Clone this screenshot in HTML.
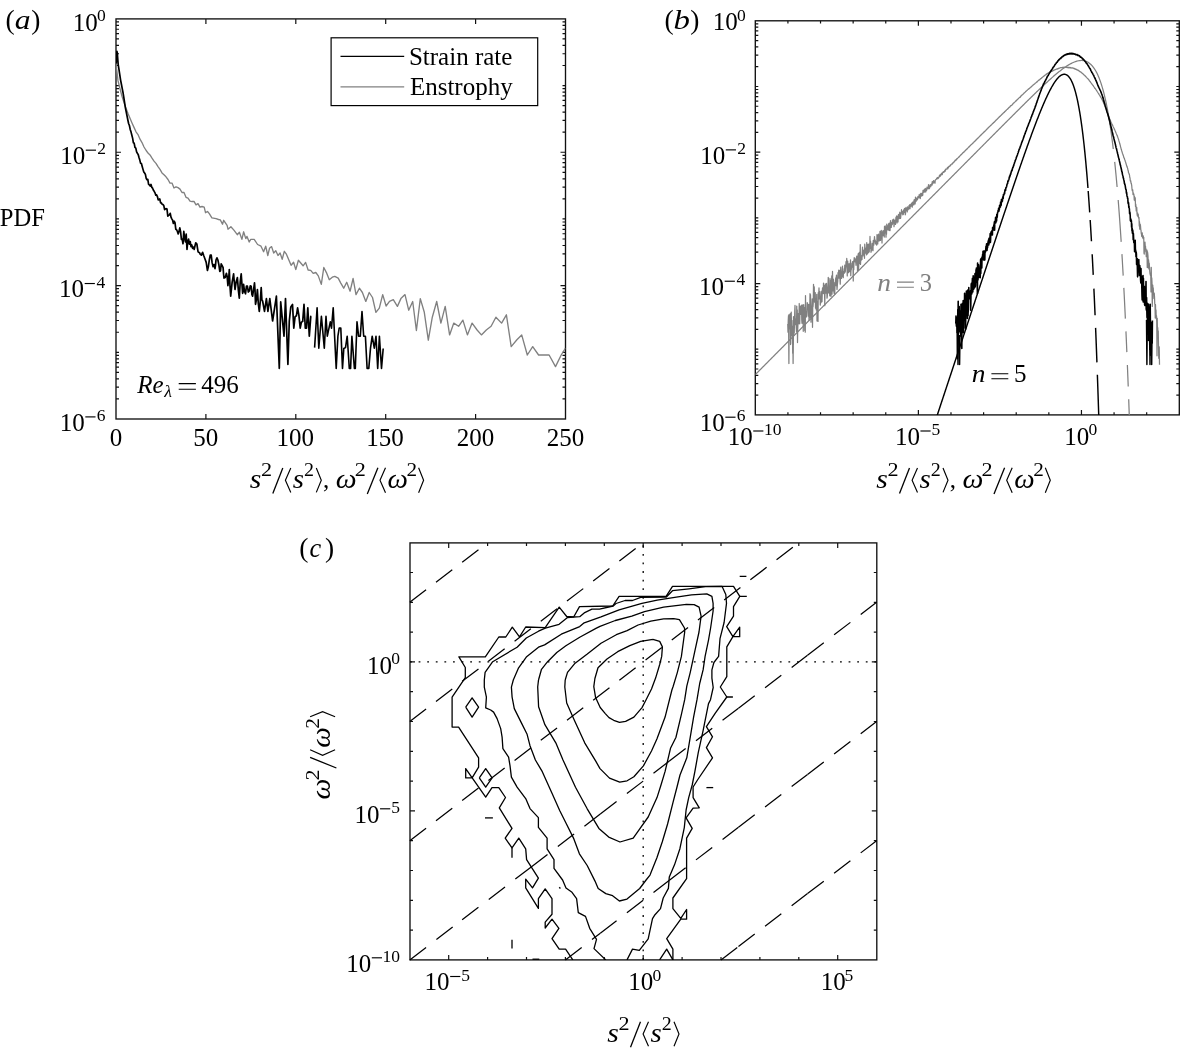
<!DOCTYPE html>
<html><head><meta charset="utf-8"><style>
html,body{margin:0;padding:0;background:#fff;}
svg{display:block;}
text{font-family:"Liberation Serif",serif;}
svg{will-change:transform;}
</style></head><body>
<svg width="1180" height="1050" viewBox="0 0 1180 1050">
<rect width="1180" height="1050" fill="#fff"/>
<path d="M116.00 65.51h3M565.50 65.51h-3M116.00 53.77h3M565.50 53.77h-3M116.00 45.44h3M565.50 45.44h-3M116.00 38.97h3M565.50 38.97h-3M116.00 33.69h3M565.50 33.69h-3M116.00 29.23h3M565.50 29.23h-3M116.00 25.36h3M565.50 25.36h-3M116.00 21.95h3M565.50 21.95h-3M116.00 132.19h3M565.50 132.19h-3M116.00 120.45h3M565.50 120.45h-3M116.00 112.12h3M565.50 112.12h-3M116.00 105.66h3M565.50 105.66h-3M116.00 100.38h3M565.50 100.38h-3M116.00 95.91h3M565.50 95.91h-3M116.00 92.05h3M565.50 92.05h-3M116.00 88.63h3M565.50 88.63h-3M116.00 198.88h3M565.50 198.88h-3M116.00 187.13h3M565.50 187.13h-3M116.00 178.80h3M565.50 178.80h-3M116.00 172.34h3M565.50 172.34h-3M116.00 167.06h3M565.50 167.06h-3M116.00 162.60h3M565.50 162.60h-3M116.00 158.73h3M565.50 158.73h-3M116.00 155.32h3M565.50 155.32h-3M116.00 265.56h3M565.50 265.56h-3M116.00 253.82h3M565.50 253.82h-3M116.00 245.49h3M565.50 245.49h-3M116.00 239.02h3M565.50 239.02h-3M116.00 233.74h3M565.50 233.74h-3M116.00 229.28h3M565.50 229.28h-3M116.00 225.41h3M565.50 225.41h-3M116.00 222.00h3M565.50 222.00h-3M116.00 332.24h3M565.50 332.24h-3M116.00 320.50h3M565.50 320.50h-3M116.00 312.17h3M565.50 312.17h-3M116.00 305.71h3M565.50 305.71h-3M116.00 300.43h3M565.50 300.43h-3M116.00 295.96h3M565.50 295.96h-3M116.00 292.10h3M565.50 292.10h-3M116.00 288.68h3M565.50 288.68h-3M116.00 398.93h3M565.50 398.93h-3M116.00 387.18h3M565.50 387.18h-3M116.00 378.85h3M565.50 378.85h-3M116.00 372.39h3M565.50 372.39h-3M116.00 367.11h3M565.50 367.11h-3M116.00 362.65h3M565.50 362.65h-3M116.00 358.78h3M565.50 358.78h-3M116.00 355.37h3M565.50 355.37h-3M116.00 85.58h3M565.50 85.58h-3M116.00 218.95h3M565.50 218.95h-3M116.00 352.32h3M565.50 352.32h-3" stroke="#111" stroke-width="1.2"/>
<path d="M116.00 152.27h5M565.50 152.27h-5M116.00 285.63h5M565.50 285.63h-5" stroke="#111" stroke-width="1.2"/>
<path d="M205.90 419.00v-5M205.90 18.90v5M295.80 419.00v-5M295.80 18.90v5M385.70 419.00v-5M385.70 18.90v5M475.60 419.00v-5M475.60 18.90v5" stroke="#111" stroke-width="1.2"/>
<rect x="116.00" y="18.90" width="449.50" height="400.10" fill="none" stroke="#111" stroke-width="1.35"/>
<path d="M755.30 66.71h3M1179.30 66.71h-3M755.30 55.14h3M1179.30 55.14h-3M755.30 46.94h3M1179.30 46.94h-3M755.30 40.57h3M1179.30 40.57h-3M755.30 35.37h3M1179.30 35.37h-3M755.30 30.97h3M1179.30 30.97h-3M755.30 27.17h3M1179.30 27.17h-3M755.30 23.81h3M1179.30 23.81h-3M755.30 132.39h3M1179.30 132.39h-3M755.30 120.83h3M1179.30 120.83h-3M755.30 112.62h3M1179.30 112.62h-3M755.30 106.26h3M1179.30 106.26h-3M755.30 101.06h3M1179.30 101.06h-3M755.30 96.66h3M1179.30 96.66h-3M755.30 92.85h3M1179.30 92.85h-3M755.30 89.49h3M1179.30 89.49h-3M755.30 198.08h3M1179.30 198.08h-3M755.30 186.51h3M1179.30 186.51h-3M755.30 178.30h3M1179.30 178.30h-3M755.30 171.94h3M1179.30 171.94h-3M755.30 166.74h3M1179.30 166.74h-3M755.30 162.34h3M1179.30 162.34h-3M755.30 158.53h3M1179.30 158.53h-3M755.30 155.17h3M1179.30 155.17h-3M755.30 263.76h3M1179.30 263.76h-3M755.30 252.19h3M1179.30 252.19h-3M755.30 243.99h3M1179.30 243.99h-3M755.30 237.62h3M1179.30 237.62h-3M755.30 232.42h3M1179.30 232.42h-3M755.30 228.02h3M1179.30 228.02h-3M755.30 224.22h3M1179.30 224.22h-3M755.30 220.86h3M1179.30 220.86h-3M755.30 329.44h3M1179.30 329.44h-3M755.30 317.88h3M1179.30 317.88h-3M755.30 309.67h3M1179.30 309.67h-3M755.30 303.31h3M1179.30 303.31h-3M755.30 298.11h3M1179.30 298.11h-3M755.30 293.71h3M1179.30 293.71h-3M755.30 289.90h3M1179.30 289.90h-3M755.30 286.54h3M1179.30 286.54h-3M755.30 395.13h3M1179.30 395.13h-3M755.30 383.56h3M1179.30 383.56h-3M755.30 375.35h3M1179.30 375.35h-3M755.30 368.99h3M1179.30 368.99h-3M755.30 363.79h3M1179.30 363.79h-3M755.30 359.39h3M1179.30 359.39h-3M755.30 355.58h3M1179.30 355.58h-3M755.30 352.22h3M1179.30 352.22h-3M755.30 86.48h3M1179.30 86.48h-3M755.30 217.85h3M1179.30 217.85h-3M755.30 349.22h3M1179.30 349.22h-3" stroke="#111" stroke-width="1.2"/>
<path d="M755.30 152.17h5M1179.30 152.17h-5M755.30 283.53h5M1179.30 283.53h-5" stroke="#111" stroke-width="1.2"/>
<path d="M787.92 414.90v-2.6M787.92 20.80v2.6M820.53 414.90v-2.6M820.53 20.80v2.6M853.15 414.90v-2.6M853.15 20.80v2.6M885.76 414.90v-2.6M885.76 20.80v2.6M950.99 414.90v-2.6M950.99 20.80v2.6M983.61 414.90v-2.6M983.61 20.80v2.6M1016.22 414.90v-2.6M1016.22 20.80v2.6M1048.84 414.90v-2.6M1048.84 20.80v2.6M1114.07 414.90v-2.6M1114.07 20.80v2.6M1146.68 414.90v-2.6M1146.68 20.80v2.6" stroke="#111" stroke-width="1.2"/>
<path d="M918.38 414.90v-5M918.38 20.80v5M1081.45 414.90v-5M1081.45 20.80v5" stroke="#111" stroke-width="1.2"/>
<rect x="755.30" y="20.80" width="424.00" height="394.10" fill="none" stroke="#111" stroke-width="1.35"/>
<path d="M410.00 930.10h3M876.80 930.10h-3M410.00 900.30h3M876.80 900.30h-3M410.00 870.50h3M876.80 870.50h-3M410.00 840.70h3M876.80 840.70h-3M410.00 781.10h3M876.80 781.10h-3M410.00 751.30h3M876.80 751.30h-3M410.00 721.50h3M876.80 721.50h-3M410.00 691.70h3M876.80 691.70h-3M410.00 632.10h3M876.80 632.10h-3M410.00 602.30h3M876.80 602.30h-3M410.00 572.50h3M876.80 572.50h-3" stroke="#111" stroke-width="1.2"/>
<path d="M410.00 810.90h5M876.80 810.90h-5M410.00 661.90h5M876.80 661.90h-5" stroke="#111" stroke-width="1.2"/>
<path d="M487.60 959.90v-3M487.60 542.90v3M526.50 959.90v-3M526.50 542.90v3M565.40 959.90v-3M565.40 542.90v3M604.30 959.90v-3M604.30 542.90v3M682.10 959.90v-3M682.10 542.90v3M721.00 959.90v-3M721.00 542.90v3M759.90 959.90v-3M759.90 542.90v3M798.80 959.90v-3M798.80 542.90v3" stroke="#111" stroke-width="1.2"/>
<path d="M448.70 959.90v-5M448.70 542.90v5M643.20 959.90v-5M643.20 542.90v5M837.70 959.90v-5M837.70 542.90v5" stroke="#111" stroke-width="1.2"/>
<rect x="410.00" y="542.90" width="466.80" height="417.00" fill="none" stroke="#111" stroke-width="1.35"/>
<text x="5.39" y="29.20" font-size="27.5">(</text>
<text transform="translate(14.86 29.20) scale(1.152 1)" font-size="27.5" font-style="italic">a</text>
<text x="31.25" y="29.20" font-size="27.5">)</text>
<text x="664.59" y="29.20" font-size="27.5">(</text>
<text transform="translate(673.38 29.20) scale(1.194 1)" font-size="27.5" font-style="italic">b</text>
<text x="690.35" y="29.20" font-size="27.5">)</text>
<text x="299.29" y="557.30" font-size="27.5">(</text>
<text transform="translate(309.39 557.30) scale(0.958 1)" font-size="27.5" font-style="italic">c</text>
<text x="324.95" y="557.30" font-size="27.5">)</text>
<text x="72.74" y="30.50" font-size="25.0">10</text>
<text x="96.92" y="20.80" font-size="17.5">0</text>
<text x="60.24" y="163.87" font-size="25.0">10</text>
<path d="M85.78 150.17H95.98" stroke="#000" stroke-width="1.15"/>
<text x="97.22" y="154.17" font-size="17.5">2</text>
<text x="59.12" y="297.23" font-size="25.0">10</text>
<path d="M84.67 283.53H94.87" stroke="#000" stroke-width="1.15"/>
<text x="96.52" y="287.53" font-size="17.5">4</text>
<text x="59.78" y="430.60" font-size="25.0">10</text>
<path d="M85.32 416.90H95.52" stroke="#000" stroke-width="1.15"/>
<text x="96.77" y="420.90" font-size="17.5">6</text>
<text x="-0.21" y="225.50" font-size="24.6">PDF</text>
<text x="109.75" y="445.60" font-size="25.0">0</text>
<text x="193.15" y="445.60" font-size="25.0">50</text>
<text x="276.43" y="445.60" font-size="25.0">100</text>
<text x="366.33" y="445.60" font-size="25.0">150</text>
<text x="456.78" y="445.60" font-size="25.0">200</text>
<text x="546.68" y="445.60" font-size="25.0">250</text>
<text transform="translate(249.64 487.80) scale(1.100 1)" font-size="27" font-style="italic">s</text>
<text transform="translate(260.92 476.20) scale(1.168 1)" font-size="19">2</text>
<path d="M272.80 493.50L282.80 468.00" stroke="#000" stroke-width="1.3"/>
<path d="M290.80 468.00L285.40 480.20L290.80 492.40" fill="none" stroke="#000" stroke-width="1.15"/>
<text transform="translate(292.75 487.80) scale(1.068 1)" font-size="27" font-style="italic">s</text>
<text transform="translate(304.02 476.20) scale(1.050 1)" font-size="19">2</text>
<path d="M316.30 468.00L321.30 480.20L316.30 492.40" fill="none" stroke="#000" stroke-width="1.15"/>
<text x="323.05" y="487.80" font-size="25">,</text>
<text transform="translate(335.82 487.80) scale(1.095 1)" font-size="27" font-style="italic">ω</text>
<text transform="translate(354.82 476.20) scale(1.168 1)" font-size="19">2</text>
<path d="M367.30 494.00L377.90 467.70" stroke="#000" stroke-width="1.3"/>
<path d="M385.50 467.70L380.00 480.20L385.50 492.70" fill="none" stroke="#000" stroke-width="1.15"/>
<text transform="translate(387.54 487.80) scale(1.072 1)" font-size="27" font-style="italic">ω</text>
<text transform="translate(406.57 476.20) scale(1.116 1)" font-size="19">2</text>
<path d="M418.60 467.70L423.60 480.20L418.60 492.70" fill="none" stroke="#000" stroke-width="1.15"/>
<rect x="331.1" y="37.8" width="206.6" height="67.8" fill="#fff" stroke="#000" stroke-width="1.2"/>
<path d="M340.50 56.30H404.20" stroke="#000" stroke-width="1.3"/>
<path d="M340.50 86.90H404.20" stroke="#808080" stroke-width="1.3"/>
<text x="408.93" y="65.10" font-size="25.0">Strain rate</text>
<text x="409.88" y="95.30" font-size="25.0">Enstrophy</text>
<text x="137.33" y="392.60" font-size="25.0" font-style="italic">Re</text>
<text transform="translate(164.33 396.60) scale(1.017 1)" font-size="17.5" font-style="italic">λ</text>
<path d="M178.70 383.60H195.90M178.70 389.20H195.90" stroke="#000" stroke-width="1.1"/>
<text x="201.31" y="392.60" font-size="25.0">496</text>
<text x="712.74" y="30.30" font-size="25.0">10</text>
<text x="736.92" y="20.60" font-size="17.5">0</text>
<text x="700.24" y="163.57" font-size="25.0">10</text>
<path d="M725.78 149.87H735.98" stroke="#000" stroke-width="1.15"/>
<text x="737.22" y="153.87" font-size="17.5">2</text>
<text x="699.12" y="294.93" font-size="25.0">10</text>
<path d="M724.67 281.23H734.87" stroke="#000" stroke-width="1.15"/>
<text x="736.52" y="285.23" font-size="17.5">4</text>
<text x="699.78" y="430.90" font-size="25.0">10</text>
<path d="M725.32 417.20H735.52" stroke="#000" stroke-width="1.15"/>
<text x="736.77" y="421.20" font-size="17.5">6</text>
<text x="727.68" y="444.70" font-size="25.0">10</text>
<path d="M753.23 431.00H763.43" stroke="#000" stroke-width="1.15"/>
<text x="763.89" y="435.00" font-size="17.5">10</text>
<text x="894.88" y="444.70" font-size="25.0">10</text>
<path d="M920.43 431.00H930.63" stroke="#000" stroke-width="1.15"/>
<text x="931.61" y="435.00" font-size="17.5">5</text>
<text x="1064.22" y="444.70" font-size="25.0">10</text>
<text x="1088.40" y="435.00" font-size="17.5">0</text>
<text transform="translate(876.34 487.80) scale(1.100 1)" font-size="27" font-style="italic">s</text>
<text transform="translate(887.62 476.20) scale(1.168 1)" font-size="19">2</text>
<path d="M899.50 493.50L909.50 468.00" stroke="#000" stroke-width="1.3"/>
<path d="M917.50 468.00L912.10 480.20L917.50 492.40" fill="none" stroke="#000" stroke-width="1.15"/>
<text transform="translate(919.45 487.80) scale(1.068 1)" font-size="27" font-style="italic">s</text>
<text transform="translate(930.72 476.20) scale(1.050 1)" font-size="19">2</text>
<path d="M943.00 468.00L948.00 480.20L943.00 492.40" fill="none" stroke="#000" stroke-width="1.15"/>
<text x="949.75" y="487.80" font-size="25">,</text>
<text transform="translate(962.52 487.80) scale(1.095 1)" font-size="27" font-style="italic">ω</text>
<text transform="translate(981.52 476.20) scale(1.168 1)" font-size="19">2</text>
<path d="M994.00 494.00L1004.60 467.70" stroke="#000" stroke-width="1.3"/>
<path d="M1012.20 467.70L1006.70 480.20L1012.20 492.70" fill="none" stroke="#000" stroke-width="1.15"/>
<text transform="translate(1014.24 487.80) scale(1.072 1)" font-size="27" font-style="italic">ω</text>
<text transform="translate(1033.27 476.20) scale(1.116 1)" font-size="19">2</text>
<path d="M1045.30 467.70L1050.30 480.20L1045.30 492.70" fill="none" stroke="#000" stroke-width="1.15"/>
<text transform="translate(877.32 290.60) scale(1.097 1)" font-size="25" font-style="italic" fill="#808080">n</text>
<path d="M897.00 282.10H913.90M897.00 287.20H913.90" stroke="#808080" stroke-width="1.1"/>
<text transform="translate(919.83 290.60) scale(0.978 1)" font-size="25" fill="#808080">3</text>
<text transform="translate(971.72 382.20) scale(1.097 1)" font-size="25" font-style="italic">n</text>
<path d="M991.40 373.70H1008.30M991.40 378.80H1008.30" stroke="#000" stroke-width="1.1"/>
<text transform="translate(1013.94 382.20) scale(1.003 1)" font-size="25">5</text>
<text x="367.04" y="673.50" font-size="25.0">10</text>
<text x="391.22" y="663.80" font-size="17.5">0</text>
<text x="354.50" y="822.50" font-size="25.0">10</text>
<path d="M380.05 808.80H390.25" stroke="#000" stroke-width="1.15"/>
<text x="391.23" y="812.80" font-size="17.5">5</text>
<text x="346.26" y="971.50" font-size="25.0">10</text>
<path d="M371.80 957.80H382.00" stroke="#000" stroke-width="1.15"/>
<text x="382.47" y="961.80" font-size="17.5">10</text>
<text x="424.60" y="990.20" font-size="25.0">10</text>
<path d="M450.15 976.50H460.35" stroke="#000" stroke-width="1.15"/>
<text x="461.33" y="980.50" font-size="17.5">5</text>
<text x="628.27" y="990.20" font-size="25.0">10</text>
<text x="652.45" y="980.50" font-size="17.5">0</text>
<text x="820.65" y="990.20" font-size="25.0">10</text>
<text x="844.48" y="980.50" font-size="17.5">5</text>
<text transform="translate(607.34 1041.60) scale(1.100 1)" font-size="27" font-style="italic">s</text>
<text transform="translate(618.62 1030.00) scale(1.168 1)" font-size="19">2</text>
<path d="M630.50 1047.30L640.50 1021.80" stroke="#000" stroke-width="1.3"/>
<path d="M648.50 1021.80L643.10 1034.00L648.50 1046.20" fill="none" stroke="#000" stroke-width="1.15"/>
<text transform="translate(650.45 1041.60) scale(1.068 1)" font-size="27" font-style="italic">s</text>
<text transform="translate(661.72 1030.00) scale(1.050 1)" font-size="19">2</text>
<path d="M674.00 1021.80L679.00 1034.00L674.00 1046.20" fill="none" stroke="#000" stroke-width="1.15"/>
<g transform="translate(330.2 798.5) rotate(-90)">
<text transform="translate(-0.98 0.00) scale(1.095 1)" font-size="27" font-style="italic">ω</text>
<text transform="translate(18.02 -11.60) scale(1.168 1)" font-size="19">2</text>
<path d="M30.50 6.20L41.10 -20.10" stroke="#000" stroke-width="1.3"/>
<path d="M48.70 -20.10L43.20 -7.60L48.70 4.90" fill="none" stroke="#000" stroke-width="1.15"/>
<text transform="translate(50.74 0.00) scale(1.072 1)" font-size="27" font-style="italic">ω</text>
<text transform="translate(69.77 -11.60) scale(1.116 1)" font-size="19">2</text>
<path d="M81.80 -20.10L86.80 -7.60L81.80 4.90" fill="none" stroke="#000" stroke-width="1.15"/>
</g>
<clipPath id="clipA"><rect x="116" y="18.9" width="449.5" height="400.1"/></clipPath>
<clipPath id="clipB"><rect x="755.3" y="20.8" width="424" height="394.1"/></clipPath>
<clipPath id="clipC"><rect x="410" y="542.9" width="466.8" height="417"/></clipPath>
<path d="M116.00 63.50 L118.00 80.70 L120.00 88.76 L122.00 96.20 L124.00 102.50 L126.00 108.15 L128.00 113.45 L130.00 118.32 L132.00 122.98 L134.00 127.40 L136.00 131.81 L138.00 134.59 L140.00 139.21 L142.00 142.55 L144.00 147.01 L146.00 150.25 L148.00 153.04 L150.00 154.95 L152.00 158.16 L154.00 161.17 L156.00 163.40 L158.00 166.59 L160.00 169.42 L162.00 172.93 L164.00 174.82 L166.00 176.81 L168.00 179.49 L170.00 183.06 L172.00 183.10 L174.00 187.97 L176.00 186.80 L178.00 187.63 L180.00 189.08 L182.00 192.53 L184.00 192.40 L186.00 197.31 L188.00 198.19 L190.00 201.18 L192.00 201.54 L194.00 201.45 L196.00 204.91 L198.00 203.61 L200.00 207.20 L202.00 206.50 L204.20 207.20 L205.50 212.70 L207.50 211.50 L209.30 213.60 L211.90 217.80 L216.10 218.60 L218.50 219.50 L220.30 219.90 L222.50 224.20 L223.70 220.30 L227.10 225.40 L228.00 229.20 L230.90 226.70 L233.90 230.10 L237.30 234.70 L239.40 232.20 L241.90 239.40 L243.60 231.80 L245.80 238.60 L247.00 236.40 L249.20 242.00 L250.80 239.40 L254.20 239.40 L257.60 244.50 L261.00 246.20 L263.60 251.70 L265.70 246.20 L267.80 255.50 L269.50 248.30 L271.60 246.60 L273.70 253.00 L275.80 250.80 L278.00 255.50 L280.10 253.00 L282.20 259.30 L284.30 251.30 L286.40 254.20 L291.10 265.30 L293.60 262.30 L295.80 269.60 L298.40 260.30 L303.10 265.80 L305.60 262.40 L308.10 270.00 L310.70 270.40 L313.20 273.40 L315.80 272.50 L318.30 275.90 L321.30 284.40 L323.80 267.50 L326.80 273.40 L329.30 279.70 L332.30 277.20 L334.80 276.40 L338.20 278.10 L340.80 283.10 L343.70 288.20 L346.70 282.30 L350.10 291.20 L353.10 278.50 L356.00 294.60 L359.40 288.20 L362.40 292.50 L365.80 301.40 L369.20 292.50 L372.50 297.50 L375.90 312.40 L379.30 308.10 L382.70 294.60 L386.10 306.00 L389.50 301.40 L393.30 299.70 L397.40 306.40 L400.90 298.60 L405.00 294.60 L408.70 310.20 L412.70 301.50 L416.40 330.50 L420.30 298.60 L424.30 312.30 L428.30 340.20 L432.30 317.20 L436.70 301.50 L440.90 323.10 L445.20 306.40 L449.60 334.90 L453.80 323.10 L458.60 326.30 L462.90 320.10 L467.40 334.90 L472.10 323.10 L477.10 330.00 L481.40 334.90 L486.30 330.00 L491.10 326.30 L495.90 317.20 L501.60 323.10 L506.40 314.80 L511.20 346.60 L516.90 339.70 L521.70 334.90 L527.30 355.00 L532.70 346.60 L538.60 355.00 L549.10 355.00 L555.50 366.60 L561.20 355.00 L565.50 348.00" fill="none" stroke="#808080" stroke-width="1.35" stroke-linejoin="round" clip-path="url(#clipA)"/>
<path d="M116.20 63.50 L116.50 54.00 L116.90 51.30 L117.30 53.00 L118.20 64.59 L119.00 69.74 L119.80 74.90 L120.60 80.06 L121.40 84.28 L122.20 88.37 L123.00 92.47 L123.80 97.32 L124.60 102.64 L125.40 107.80 L126.20 111.77 L127.00 115.74 L127.80 119.71 L128.60 123.51 L129.40 125.49 L130.20 129.41 L131.00 131.83 L131.80 135.05 L132.60 138.13 L133.40 142.77 L134.20 143.30 L135.00 147.47 L135.80 148.17 L136.60 151.81 L137.40 153.25 L138.20 154.57 L139.00 157.48 L139.80 160.12 L140.60 163.20 L141.40 163.54 L142.20 166.48 L143.00 169.36 L143.80 172.03 L144.60 173.00 L145.40 174.43 L146.20 178.32 L147.00 179.70 L147.80 179.36 L148.60 184.34 L149.40 184.94 L150.20 186.10 L151.00 184.44 L151.80 187.35 L152.60 188.20 L153.40 190.22 L154.20 191.36 L155.00 192.80 L155.80 195.19 L156.60 194.82 L157.40 196.53 L158.20 199.86 L159.00 199.69 L159.80 199.01 L160.60 202.84 L161.40 202.84 L162.20 204.31 L163.00 204.61 L163.80 205.54 L164.60 209.69 L165.40 208.97 L166.20 208.62 L167.00 209.09 L167.80 216.15 L168.60 215.26 L169.40 214.97 L170.20 213.28 L171.00 217.07 L171.80 218.83 L172.60 220.19 L173.40 223.49 L174.20 221.25 L175.00 222.72 L175.80 229.28 L176.60 229.76 L177.40 231.50 L178.20 233.90 L179.00 231.50 L179.80 227.89 L180.60 231.76 L181.40 239.41 L182.20 239.07 L183.00 243.76 L183.80 231.25 L184.60 238.09 L185.40 241.87 L186.20 234.18 L187.00 249.35 L187.80 241.50 L188.60 239.07 L189.40 244.15 L190.20 241.50 L191.00 246.64 L191.80 244.96 L192.60 248.42 L193.40 247.07 L194.20 249.35 L195.00 245.70 L195.70 242.91 L196.40 243.30 L196.90 244.25 L197.40 247.60 L198.10 251.87 L198.80 252.40 L199.50 252.53 L200.20 254.30 L201.40 255.17 L202.60 252.40 L203.80 255.82 L205.00 259.00 L206.20 262.35 L207.40 270.50 L208.35 266.86 L209.30 260.00 L210.25 255.04 L211.20 255.20 L212.15 262.89 L213.10 266.70 L214.05 264.62 L215.00 268.60 L215.50 265.41 L216.00 260.00 L216.95 257.82 L217.90 260.00 L218.85 264.64 L219.80 271.40 L220.50 270.76 L221.20 263.80 L222.15 265.60 L223.10 267.60 L223.55 274.01 L224.00 278.10 L225.20 277.50 L226.40 273.30 L227.15 276.47 L227.90 285.70 L228.60 280.29 L229.30 269.50 L230.00 286.21 L230.70 296.20 L232.15 282.15 L233.60 273.80 L234.30 282.05 L235.00 289.50 L236.20 281.64 L237.40 277.60 L238.35 290.04 L239.30 298.10 L240.25 281.56 L241.20 273.80 L241.90 283.67 L242.60 293.30 L243.10 291.64 L243.60 284.30 L244.55 291.36 L245.50 293.80 L246.45 286.06 L247.40 286.20 L248.35 292.03 L249.30 291.00 L250.25 285.84 L251.20 286.20 L251.90 294.51 L252.60 296.20 L253.55 289.52 L254.50 282.90 L255.00 289.82 L255.50 304.30 L256.45 299.54 L257.40 289.50 L258.35 303.99 L259.30 311.40 L260.25 301.83 L261.20 287.60 L261.90 299.85 L262.60 301.00 L264.50 311.40 L266.40 298.60 L267.90 311.40 L269.80 298.60 L272.60 321.00 L274.50 308.60 L276.40 296.20 L279.30 368.40 L280.70 301.90 L284.00 336.20 L285.50 298.60 L287.90 364.40 L289.30 321.00 L290.80 306.90 L292.50 304.40 L293.80 328.10 L295.10 316.70 L296.40 315.80 L297.60 307.80 L298.90 315.40 L300.20 328.10 L301.40 322.20 L302.70 321.40 L304.00 304.40 L305.30 328.10 L306.50 328.10 L307.80 307.80 L309.30 336.20 L310.80 316.30 L311.20 316.30" fill="none" stroke="#000" stroke-width="1.7" stroke-linejoin="round" clip-path="url(#clipA)"/>
<path d="M314.60 347.60 L317.10 307.80 L318.80 348.10 L321.40 316.30 L324.30 348.10 L326.00 316.30 L327.30 336.20 L330.30 321.80 L331.50 328.10 L333.20 307.80 L336.20 368.40 L337.90 336.20 L339.20 328.10 L340.80 328.10 L342.50 368.40 L343.80 348.50 L345.50 347.60 L347.20 336.20 L349.30 368.40 L350.60 368.40 L351.90 336.20 L354.40 368.40 L355.30 368.40 L357.00 321.80 L358.60 336.20 L360.30 336.20 L362.00 311.60 L363.70 336.20 L365.40 336.20 L367.10 368.40 L368.80 368.40 L370.50 348.10 L372.20 336.20 L374.30 348.10 L376.00 336.20 L377.70 368.40 L379.40 336.20 L381.50 368.40 L383.20 348.50" fill="none" stroke="#000" stroke-width="1.6" stroke-linejoin="round" clip-path="url(#clipA)"/>
<path d="M755.30 374.62 L755.90 374.02 L756.50 373.41 L757.09 372.81 L757.69 372.21 L758.29 371.61 L758.89 371.01 L759.48 370.41 L760.08 369.80 L760.68 369.20 L761.28 368.60 L761.87 368.00 L762.47 367.40 L763.07 366.80 L763.67 366.19 L764.26 365.59 L764.86 364.99 L765.46 364.39 L766.06 363.79 L766.65 363.19 L767.25 362.58 L767.85 361.98 L768.45 361.38 L769.05 360.78 L769.64 360.18 L770.24 359.57 L770.84 358.97 L771.44 358.37 L772.03 357.77 L772.63 357.17 L773.23 356.57 L773.83 355.96 L774.42 355.36 L775.02 354.76 L775.62 354.16 L776.22 353.56 L776.81 352.96 L777.41 352.35 L778.01 351.75 L778.61 351.15 L779.20 350.55 L779.80 349.95 L780.40 349.35 L781.00 348.74 L781.59 348.14 L782.19 347.54 L782.79 346.94 L783.39 346.34 L783.99 345.74 L784.58 345.13 L785.18 344.53 L785.78 343.93 L786.38 343.33 L786.97 342.73 L787.57 342.12 L788.17 341.52 L788.77 340.92 L789.36 340.32 L789.96 339.72 L790.56 339.12 L791.16 338.51 L791.75 337.91 L792.35 337.31 L792.95 336.71 L793.55 336.11 L794.14 335.51 L794.74 334.90 L795.34 334.30 L795.94 333.70 L796.54 333.10 L797.13 332.50 L797.73 331.90 L798.33 331.29 L798.93 330.69 L799.52 330.09 L800.12 329.49 L800.72 328.89 L801.32 328.28 L801.91 327.68 L802.51 327.08 L803.11 326.48 L803.71 325.88 L804.30 325.28 L804.90 324.67 L805.50 324.07 L806.10 323.47 L806.69 322.87 L807.29 322.27 L807.89 321.67 L808.49 321.06 L809.08 320.46 L809.68 319.86 L810.28 319.26 L810.88 318.66 L811.48 318.06 L812.07 317.45 L812.67 316.85 L813.27 316.25 L813.87 315.65 L814.46 315.05 L815.06 314.44 L815.66 313.84 L816.26 313.24 L816.85 312.64 L817.45 312.04 L818.05 311.44 L818.65 310.83 L819.24 310.23 L819.84 309.63 L820.44 309.03 L821.04 308.43 L821.63 307.83 L822.23 307.22 L822.83 306.62 L823.43 306.02 L824.03 305.42 L824.62 304.82 L825.22 304.22 L825.82 303.61 L826.42 303.01 L827.01 302.41 L827.61 301.81 L828.21 301.21 L828.81 300.61 L829.40 300.00 L830.00 299.40 L830.60 298.80 L831.20 298.20 L831.79 297.60 L832.39 296.99 L832.99 296.39 L833.59 295.79 L834.18 295.19 L834.78 294.59 L835.38 293.99 L835.98 293.38 L836.57 292.78 L837.17 292.18 L837.77 291.58 L838.37 290.98 L838.97 290.38 L839.56 289.77 L840.16 289.17 L840.76 288.57 L841.36 287.97 L841.95 287.37 L842.55 286.77 L843.15 286.16 L843.75 285.56 L844.34 284.96 L844.94 284.36 L845.54 283.76 L846.14 283.15 L846.73 282.55 L847.33 281.95 L847.93 281.35 L848.53 280.75 L849.12 280.15 L849.72 279.54 L850.32 278.94 L850.92 278.34 L851.52 277.74 L852.11 277.14 L852.71 276.54 L853.31 275.93 L853.91 275.33 L854.50 274.73 L855.10 274.13 L855.70 273.53 L856.30 272.93 L856.89 272.32 L857.49 271.72 L858.09 271.12 L858.69 270.52 L859.28 269.92 L859.88 269.32 L860.48 268.71 L861.08 268.11 L861.67 267.51 L862.27 266.91 L862.87 266.31 L863.47 265.70 L864.06 265.10 L864.66 264.50 L865.26 263.90 L865.86 263.30 L866.46 262.70 L867.05 262.09 L867.65 261.49 L868.25 260.89 L868.85 260.29 L869.44 259.69 L870.04 259.09 L870.64 258.48 L871.24 257.88 L871.83 257.28 L872.43 256.68 L873.03 256.08 L873.63 255.48 L874.22 254.87 L874.82 254.27 L875.42 253.67 L876.02 253.07 L876.61 252.47 L877.21 251.86 L877.81 251.26 L878.41 250.66 L879.01 250.06 L879.60 249.46 L880.20 248.86 L880.80 248.25 L881.40 247.65 L881.99 247.05 L882.59 246.45 L883.19 245.85 L883.79 245.25 L884.38 244.64 L884.98 244.04 L885.58 243.44 L886.18 242.84 L886.77 242.24 L887.37 241.64 L887.97 241.03 L888.57 240.43 L889.16 239.83 L889.76 239.23 L890.36 238.63 L890.96 238.02 L891.55 237.42 L892.15 236.82 L892.75 236.22 L893.35 235.62 L893.95 235.02 L894.54 234.41 L895.14 233.81 L895.74 233.21 L896.34 232.61 L896.93 232.01 L897.53 231.41 L898.13 230.80 L898.73 230.20 L899.32 229.60 L899.92 229.00 L900.52 228.40 L901.12 227.80 L901.71 227.19 L902.31 226.59 L902.91 225.99 L903.51 225.39 L904.10 224.79 L904.70 224.19 L905.30 223.58 L905.90 222.98 L906.50 222.38 L907.09 221.78 L907.69 221.18 L908.29 220.57 L908.89 219.97 L909.48 219.37 L910.08 218.77 L910.68 218.17 L911.28 217.57 L911.87 216.96 L912.47 216.36 L913.07 215.76 L913.67 215.16 L914.26 214.56 L914.86 213.96 L915.46 213.35 L916.06 212.75 L916.65 212.15 L917.25 211.55 L917.85 210.95 L918.45 210.35 L919.04 209.74 L919.64 209.14 L920.24 208.54 L920.84 207.94 L921.44 207.34 L922.03 206.74 L922.63 206.13 L923.23 205.53 L923.83 204.93 L924.42 204.33 L925.02 203.73 L925.62 203.12 L926.22 202.52 L926.81 201.92 L927.41 201.32 L928.01 200.72 L928.61 200.12 L929.20 199.51 L929.80 198.91 L930.40 198.31 L931.00 197.71 L931.59 197.11 L932.19 196.51 L932.79 195.90 L933.39 195.30 L933.99 194.70 L934.58 194.10 L935.18 193.50 L935.78 192.90 L936.38 192.29 L936.97 191.69 L937.57 191.09 L938.17 190.49 L938.77 189.89 L939.36 189.29 L939.96 188.68 L940.56 188.08 L941.16 187.48 L941.75 186.88 L942.35 186.28 L942.95 185.68 L943.55 185.07 L944.14 184.47 L944.74 183.87 L945.34 183.27 L945.94 182.67 L946.54 182.06 L947.13 181.46 L947.73 180.86 L948.33 180.26 L948.93 179.66 L949.52 179.06 L950.12 178.45 L950.72 177.85 L951.32 177.25 L951.91 176.65 L952.51 176.05 L953.11 175.45 L953.71 174.84 L954.30 174.24 L954.90 173.64 L955.50 173.04 L956.10 172.44 L956.69 171.84 L957.29 171.23 L957.89 170.63 L958.49 170.03 L959.08 169.43 L959.68 168.83 L960.28 168.23 L960.88 167.63 L961.48 167.02 L962.07 166.42 L962.67 165.82 L963.27 165.22 L963.87 164.62 L964.46 164.02 L965.06 163.41 L965.66 162.81 L966.26 162.21 L966.85 161.61 L967.45 161.01 L968.05 160.41 L968.65 159.80 L969.24 159.20 L969.84 158.60 L970.44 158.00 L971.04 157.40 L971.63 156.80 L972.23 156.20 L972.83 155.59 L973.43 154.99 L974.03 154.39 L974.62 153.79 L975.22 153.19 L975.82 152.59 L976.42 151.99 L977.01 151.38 L977.61 150.78 L978.21 150.18 L978.81 149.58 L979.40 148.98 L980.00 148.38 L980.60 147.78 L981.20 147.18 L981.79 146.57 L982.39 145.97 L982.99 145.37 L983.59 144.77 L984.18 144.17 L984.78 143.57 L985.38 142.97 L985.98 142.37 L986.57 141.77 L987.17 141.16 L987.77 140.56 L988.37 139.96 L988.97 139.36 L989.56 138.76 L990.16 138.16 L990.76 137.56 L991.36 136.96 L991.95 136.36 L992.55 135.76 L993.15 135.16 L993.75 134.56 L994.34 133.96 L994.94 133.36 L995.54 132.75 L996.14 132.15 L996.73 131.55 L997.33 130.95 L997.93 130.35 L998.53 129.75 L999.12 129.15 L999.72 128.55 L1000.32 127.95 L1000.92 127.35 L1001.52 126.76 L1002.11 126.16 L1002.71 125.56 L1003.31 124.96 L1003.91 124.36 L1004.50 123.76 L1005.10 123.16 L1005.70 122.56 L1006.30 121.96 L1006.89 121.36 L1007.49 120.76 L1008.09 120.17 L1008.69 119.57 L1009.28 118.97 L1009.88 118.37 L1010.48 117.77 L1011.08 117.18 L1011.67 116.58 L1012.27 115.98 L1012.87 115.38 L1013.47 114.79 L1014.06 114.19 L1014.66 113.59 L1015.26 113.00 L1015.86 112.40 L1016.46 111.81 L1017.05 111.21 L1017.65 110.62 L1018.25 110.02 L1018.85 109.43 L1019.44 108.83 L1020.04 108.24 L1020.64 107.64 L1021.24 107.05 L1021.83 106.46 L1022.43 105.87 L1023.03 105.27 L1023.63 104.68 L1024.22 104.09 L1024.82 103.50 L1025.42 102.91 L1026.02 102.32 L1026.61 101.73 L1027.21 101.14 L1027.81 100.55 L1028.41 99.96 L1029.01 99.38 L1029.60 98.79 L1030.20 98.20 L1030.80 97.62 L1031.40 97.03 L1031.99 96.45 L1032.59 95.87 L1033.19 95.29 L1033.79 94.70 L1034.38 94.12 L1034.98 93.54 L1035.58 92.97 L1036.18 92.39 L1036.77 91.81 L1037.37 91.24 L1037.97 90.66 L1038.57 90.09 L1039.16 89.52 L1039.76 88.95 L1040.36 88.38 L1040.96 87.81 L1041.55 87.24 L1042.15 86.68 L1042.75 86.11 L1043.35 85.55 L1043.95 84.99 L1044.54 84.43 L1045.14 83.88 L1045.74 83.32 L1046.34 82.77 L1046.93 82.22 L1047.53 81.67 L1048.13 81.13 L1048.73 80.58 L1049.32 80.04 L1049.92 79.50 L1050.52 78.97 L1051.12 78.44 L1051.71 77.91 L1052.31 77.38 L1052.91 76.86 L1053.51 76.34 L1054.10 75.82 L1054.70 75.31 L1055.30 74.80 L1055.90 74.30 L1056.50 73.79 L1057.09 73.30 L1057.69 72.81 L1058.29 72.32 L1058.89 71.84 L1059.48 71.36 L1060.08 70.89 L1060.68 70.42 L1061.28 69.96 L1061.87 69.51 L1062.47 69.06 L1063.07 68.62 L1063.67 68.19 L1064.26 67.76 L1064.86 67.34 L1065.46 66.93 L1066.06 66.53 L1066.65 66.13 L1067.25 65.75 L1067.85 65.37 L1068.45 65.01 L1069.04 64.65 L1069.64 64.30 L1070.24 63.97 L1070.84 63.65 L1071.44 63.33 L1072.03 63.04 L1072.63 62.75 L1073.23 62.48 L1073.83 62.22 L1074.42 61.98 L1075.02 61.75 L1075.62 61.54 L1076.22 61.34 L1076.81 61.17 L1077.41 61.01 L1078.01 60.87 L1078.61 60.75 L1079.20 60.65 L1079.80 60.57 L1080.40 60.52 L1081.00 60.49 L1081.59 60.48 L1082.19 60.50 L1082.79 60.55 L1083.39 60.62 L1083.99 60.72 L1084.58 60.86 L1085.18 61.02 L1085.78 61.22 L1086.38 61.45 L1086.97 61.72 L1087.57 62.03 L1088.17 62.37 L1088.77 62.76 L1089.36 63.19 L1089.96 63.66 L1090.56 64.18 L1091.16 64.75 L1091.75 65.36 L1092.35 66.03 L1092.95 66.76 L1093.55 67.54 L1094.14 68.38 L1094.74 69.29 L1095.34 70.26 L1095.94 71.29 L1096.53 72.40 L1097.13 73.58 L1097.73 74.84 L1098.33 76.18 L1098.93 77.60 L1099.52 79.11 L1100.12 80.71 L1100.72 82.40 L1101.32 84.20 L1101.91 86.09 L1102.51 88.10 L1103.11 90.22 L1103.71 92.45 L1104.30 94.81 L1104.90 97.29 L1105.50 99.91 L1106.10 102.66 L1106.69 105.56 L1107.29 108.61 L1107.89 111.82 L1108.49 115.19 L1109.08 118.74 L1109.68 122.46 L1110.28 126.37 L1110.88 130.47 L1111.48 134.78 L1112.07 139.29 L1112.67 144.03 L1113.27 149.00" fill="none" stroke="#808080" stroke-width="1.25" stroke-linejoin="round" clip-path="url(#clipB)"/>
<path d="M1114.70 161.90 L1114.78 162.69 L1114.87 163.49 L1114.95 164.29 L1115.03 165.09 L1115.11 165.90 L1115.20 166.72 L1115.28 167.54 L1115.36 168.37 L1115.44 169.20 L1115.53 170.03 L1115.61 170.88 L1115.69 171.72 L1115.77 172.58 L1115.86 173.44 L1115.94 174.30 L1116.02 175.17 L1116.11 176.05 L1116.19 176.93 L1116.27 177.81 L1116.35 178.71 L1116.44 179.60 L1116.52 180.51 L1116.60 181.42 L1116.68 182.33 L1116.77 183.26 L1116.85 184.18 L1116.93 185.12 L1117.02 186.05 L1117.10 187.00" fill="none" stroke="#808080" stroke-width="1.25" stroke-linejoin="round" clip-path="url(#clipB)"/>
<path d="M1118.19 200.00 L1118.29 201.29 L1118.39 202.59 L1118.49 203.91 L1118.60 205.23 L1118.70 206.56 L1118.80 207.91 L1118.91 209.26 L1119.01 210.63 L1119.11 212.00 L1119.22 213.39 L1119.32 214.79 L1119.42 216.19 L1119.53 217.61 L1119.63 219.04 L1119.73 220.49 L1119.84 221.94 L1119.94 223.40 L1120.04 224.88 L1120.15 226.37 L1120.25 227.87 L1120.35 229.38 L1120.46 230.90 L1120.56 232.44 L1120.66 233.98 L1120.77 235.54 L1120.87 237.11 L1120.97 238.70 L1121.08 240.29 L1121.18 241.90" fill="none" stroke="#808080" stroke-width="1.25" stroke-linejoin="round" clip-path="url(#clipB)"/>
<path d="M1121.94 254.10 L1121.98 254.81 L1122.02 255.52 L1122.07 256.23 L1122.11 256.95 L1122.15 257.67 L1122.19 258.39 L1122.24 259.11 L1122.28 259.83 L1122.32 260.56 L1122.37 261.29 L1122.41 262.02 L1122.45 262.76 L1122.49 263.49 L1122.54 264.23 L1122.58 264.97 L1122.62 265.72 L1122.67 266.46 L1122.71 267.21 L1122.75 267.96 L1122.79 268.71 L1122.84 269.47 L1122.88 270.23 L1122.92 270.99 L1122.96 271.75 L1123.01 272.51 L1123.05 273.28 L1123.09 274.05 L1123.14 274.83 L1123.18 275.60" fill="none" stroke="#808080" stroke-width="1.25" stroke-linejoin="round" clip-path="url(#clipB)"/>
<path d="M1123.84 287.90 L1123.89 288.90 L1123.94 289.91 L1124.00 290.92 L1124.05 291.93 L1124.10 292.95 L1124.15 293.97 L1124.21 295.00 L1124.26 296.03 L1124.31 297.06 L1124.36 298.10 L1124.42 299.14 L1124.47 300.19 L1124.52 301.24 L1124.57 302.29 L1124.63 303.35 L1124.68 304.41 L1124.73 305.48 L1124.78 306.55 L1124.84 307.62 L1124.89 308.70 L1124.94 309.78 L1124.99 310.87 L1125.05 311.96 L1125.10 313.06 L1125.15 314.16 L1125.20 315.26 L1125.26 316.37 L1125.31 317.48 L1125.36 318.60" fill="none" stroke="#808080" stroke-width="1.25" stroke-linejoin="round" clip-path="url(#clipB)"/>
<path d="M1125.95 331.40 L1125.98 332.09 L1126.01 332.78 L1126.04 333.48 L1126.07 334.17 L1126.10 334.87 L1126.13 335.57 L1126.16 336.27 L1126.19 336.97 L1126.23 337.68 L1126.26 338.38 L1126.29 339.09 L1126.32 339.80 L1126.35 340.51 L1126.38 341.22 L1126.41 341.94 L1126.44 342.65 L1126.47 343.37 L1126.50 344.09 L1126.54 344.81 L1126.57 345.53 L1126.60 346.25 L1126.63 346.98 L1126.66 347.70 L1126.69 348.43 L1126.72 349.16 L1126.75 349.89 L1126.78 350.63 L1126.81 351.36 L1126.85 352.10" fill="none" stroke="#808080" stroke-width="1.25" stroke-linejoin="round" clip-path="url(#clipB)"/>
<path d="M1127.38 365.00 L1127.41 365.72 L1127.43 366.43 L1127.46 367.15 L1127.49 367.87 L1127.52 368.60 L1127.55 369.32 L1127.58 370.05 L1127.61 370.77 L1127.64 371.50 L1127.67 372.23 L1127.69 372.96 L1127.72 373.70 L1127.75 374.43 L1127.78 375.17 L1127.81 375.90 L1127.84 376.64 L1127.87 377.38 L1127.90 378.13 L1127.93 378.87 L1127.95 379.62 L1127.98 380.36 L1128.01 381.11 L1128.04 381.86 L1128.07 382.62 L1128.10 383.37 L1128.13 384.12 L1128.16 384.88 L1128.19 385.64 L1128.21 386.40" fill="none" stroke="#808080" stroke-width="1.25" stroke-linejoin="round" clip-path="url(#clipB)"/>
<path d="M1128.70 399.30 L1128.72 399.86 L1128.74 400.43 L1128.76 400.99 L1128.78 401.56 L1128.80 402.13 L1128.82 402.70 L1128.84 403.26 L1128.86 403.83 L1128.88 404.40 L1128.90 404.98 L1128.92 405.55 L1128.94 406.12 L1128.96 406.70 L1128.98 407.27 L1129.01 407.85 L1129.03 408.42 L1129.05 409.00 L1129.07 409.58 L1129.09 410.16 L1129.11 410.74 L1129.13 411.32 L1129.15 411.90 L1129.17 412.48 L1129.19 413.07 L1129.21 413.65 L1129.23 414.24 L1129.25 414.82 L1129.27 415.41 L1129.29 416.00" fill="none" stroke="#808080" stroke-width="1.25" stroke-linejoin="round" clip-path="url(#clipB)"/>
<path d="M918.38 472.15 L918.66 471.30 L918.94 470.44 L919.22 469.59 L919.51 468.73 L919.79 467.88 L920.07 467.02 L920.36 466.17 L920.64 465.31 L920.92 464.46 L921.21 463.60 L921.49 462.75 L921.77 461.89 L922.06 461.04 L922.34 460.18 L922.62 459.33 L922.90 458.47 L923.19 457.62 L923.47 456.76 L923.75 455.91 L924.04 455.05 L924.32 454.20 L924.60 453.34 L924.89 452.49 L925.17 451.63 L925.45 450.78 L925.74 449.92 L926.02 449.06 L926.30 448.21 L926.59 447.35 L926.87 446.50 L927.15 445.64 L927.43 444.79 L927.72 443.93 L928.00 443.08 L928.28 442.22 L928.57 441.37 L928.85 440.51 L929.13 439.66 L929.42 438.80 L929.70 437.95 L929.98 437.09 L930.27 436.24 L930.55 435.38 L930.83 434.53 L931.12 433.67 L931.40 432.82 L931.68 431.96 L931.96 431.11 L932.25 430.25 L932.53 429.40 L932.81 428.54 L933.10 427.69 L933.38 426.83 L933.66 425.98 L933.95 425.12 L934.23 424.27 L934.51 423.41 L934.80 422.56 L935.08 421.70 L935.36 420.85 L935.65 419.99 L935.93 419.14 L936.21 418.28 L936.49 417.42 L936.78 416.57 L937.06 415.71 L937.34 414.86 L937.63 414.00 L937.91 413.15 L938.19 412.29 L938.48 411.44 L938.76 410.58 L939.04 409.73 L939.33 408.87 L939.61 408.02 L939.89 407.16 L940.17 406.31 L940.46 405.45 L940.74 404.60 L941.02 403.74 L941.31 402.89 L941.59 402.03 L941.87 401.18 L942.16 400.32 L942.44 399.47 L942.72 398.61 L943.01 397.76 L943.29 396.90 L943.57 396.05 L943.86 395.19 L944.14 394.34 L944.42 393.48 L944.70 392.63 L944.99 391.77 L945.27 390.92 L945.55 390.06 L945.84 389.21 L946.12 388.35 L946.40 387.50 L946.69 386.64 L946.97 385.79 L947.25 384.93 L947.54 384.08 L947.82 383.22 L948.10 382.37 L948.39 381.51 L948.67 380.66 L948.95 379.80 L949.23 378.95 L949.52 378.09 L949.80 377.24 L950.08 376.38 L950.37 375.53 L950.65 374.67 L950.93 373.82 L951.22 372.96 L951.50 372.11 L951.78 371.25 L952.07 370.40 L952.35 369.54 L952.63 368.69 L952.92 367.83 L953.20 366.98 L953.48 366.12 L953.76 365.27 L954.05 364.41 L954.33 363.56 L954.61 362.71 L954.90 361.85 L955.18 361.00 L955.46 360.14 L955.75 359.29 L956.03 358.43 L956.31 357.58 L956.60 356.72 L956.88 355.87 L957.16 355.01 L957.45 354.16 L957.73 353.30 L958.01 352.45 L958.29 351.59 L958.58 350.74 L958.86 349.88 L959.14 349.03 L959.43 348.17 L959.71 347.32 L959.99 346.46 L960.28 345.61 L960.56 344.76 L960.84 343.90 L961.13 343.05 L961.41 342.19 L961.69 341.34 L961.97 340.48 L962.26 339.63 L962.54 338.77 L962.82 337.92 L963.11 337.06 L963.39 336.21 L963.67 335.36 L963.96 334.50 L964.24 333.65 L964.52 332.79 L964.81 331.94 L965.09 331.08 L965.37 330.23 L965.66 329.37 L965.94 328.52 L966.22 327.67 L966.50 326.81 L966.79 325.96 L967.07 325.10 L967.35 324.25 L967.64 323.39 L967.92 322.54 L968.20 321.69 L968.49 320.83 L968.77 319.98 L969.05 319.12 L969.34 318.27 L969.62 317.41 L969.90 316.56 L970.19 315.71 L970.47 314.85 L970.75 314.00 L971.03 313.14 L971.32 312.29 L971.60 311.44 L971.88 310.58 L972.17 309.73 L972.45 308.87 L972.73 308.02 L973.02 307.17 L973.30 306.31 L973.58 305.46 L973.87 304.60 L974.15 303.75 L974.43 302.90 L974.72 302.04 L975.00 301.19 L975.28 300.34 L975.56 299.48 L975.85 298.63 L976.13 297.78 L976.41 296.92 L976.70 296.07 L976.98 295.22 L977.26 294.36 L977.55 293.51 L977.83 292.66 L978.11 291.80 L978.40 290.95 L978.68 290.10 L978.96 289.24 L979.24 288.39 L979.53 287.54 L979.81 286.68 L980.09 285.83 L980.38 284.98 L980.66 284.12 L980.94 283.27 L981.23 282.42 L981.51 281.57 L981.79 280.71 L982.08 279.86 L982.36 279.01 L982.64 278.16 L982.93 277.30 L983.21 276.45 L983.49 275.60 L983.77 274.75 L984.06 273.89 L984.34 273.04 L984.62 272.19 L984.91 271.34 L985.19 270.49 L985.47 269.63 L985.76 268.78 L986.04 267.93 L986.32 267.08 L986.61 266.23 L986.89 265.37 L987.17 264.52 L987.46 263.67 L987.74 262.82 L988.02 261.97 L988.30 261.12 L988.59 260.27 L988.87 259.42 L989.15 258.56 L989.44 257.71 L989.72 256.86 L990.00 256.01 L990.29 255.16 L990.57 254.31 L990.85 253.46 L991.14 252.61 L991.42 251.76 L991.70 250.91 L991.99 250.06 L992.27 249.21 L992.55 248.36 L992.83 247.51 L993.12 246.66 L993.40 245.81 L993.68 244.96 L993.97 244.11 L994.25 243.26 L994.53 242.41 L994.82 241.56 L995.10 240.72 L995.38 239.87 L995.67 239.02 L995.95 238.17 L996.23 237.32 L996.52 236.47 L996.80 235.63 L997.08 234.78 L997.36 233.93 L997.65 233.08 L997.93 232.24 L998.21 231.39 L998.50 230.54 L998.78 229.69 L999.06 228.85 L999.35 228.00 L999.63 227.15 L999.91 226.31 L1000.20 225.46 L1000.48 224.62 L1000.76 223.77 L1001.04 222.93 L1001.33 222.08 L1001.61 221.24 L1001.89 220.39 L1002.18 219.55 L1002.46 218.70 L1002.74 217.86 L1003.03 217.01 L1003.31 216.17 L1003.59 215.33 L1003.88 214.48 L1004.16 213.64 L1004.44 212.80 L1004.73 211.95 L1005.01 211.11 L1005.29 210.27 L1005.57 209.43 L1005.86 208.59 L1006.14 207.75 L1006.42 206.90 L1006.71 206.06 L1006.99 205.22 L1007.27 204.38 L1007.56 203.54 L1007.84 202.70 L1008.12 201.87 L1008.41 201.03 L1008.69 200.19 L1008.97 199.35 L1009.26 198.51 L1009.54 197.67 L1009.82 196.84 L1010.10 196.00 L1010.39 195.16 L1010.67 194.33 L1010.95 193.49 L1011.24 192.66 L1011.52 191.82 L1011.80 190.99 L1012.09 190.16 L1012.37 189.32 L1012.65 188.49 L1012.94 187.66 L1013.22 186.82 L1013.50 185.99 L1013.79 185.16 L1014.07 184.33 L1014.35 183.50 L1014.63 182.67 L1014.92 181.84 L1015.20 181.01 L1015.48 180.18 L1015.77 179.36 L1016.05 178.53 L1016.33 177.70 L1016.62 176.88 L1016.90 176.05 L1017.18 175.23 L1017.47 174.40 L1017.75 173.58 L1018.03 172.76 L1018.31 171.93 L1018.60 171.11 L1018.88 170.29 L1019.16 169.47 L1019.45 168.65 L1019.73 167.83 L1020.01 167.02 L1020.30 166.20 L1020.58 165.38 L1020.86 164.57 L1021.15 163.75 L1021.43 162.94 L1021.71 162.13 L1022.00 161.31 L1022.28 160.50 L1022.56 159.69 L1022.84 158.88 L1023.13 158.07 L1023.41 157.26 L1023.69 156.46 L1023.98 155.65 L1024.26 154.85 L1024.54 154.04 L1024.83 153.24 L1025.11 152.44 L1025.39 151.64 L1025.68 150.84 L1025.96 150.04 L1026.24 149.24 L1026.53 148.45 L1026.81 147.65 L1027.09 146.86 L1027.37 146.06 L1027.66 145.27 L1027.94 144.48 L1028.22 143.69 L1028.51 142.91 L1028.79 142.12 L1029.07 141.34 L1029.36 140.55 L1029.64 139.77 L1029.92 138.99 L1030.21 138.21 L1030.49 137.44 L1030.77 136.66 L1031.06 135.89 L1031.34 135.11 L1031.62 134.34 L1031.90 133.57 L1032.19 132.81 L1032.47 132.04 L1032.75 131.28 L1033.04 130.52 L1033.32 129.76 L1033.60 129.00 L1033.89 128.24 L1034.17 127.49 L1034.45 126.74 L1034.74 125.99 L1035.02 125.24 L1035.30 124.49 L1035.59 123.75 L1035.87 123.01 L1036.15 122.27 L1036.43 121.53 L1036.72 120.80 L1037.00 120.07 L1037.28 119.34 L1037.57 118.61 L1037.85 117.89 L1038.13 117.17 L1038.42 116.45 L1038.70 115.73 L1038.98 115.02 L1039.27 114.31 L1039.55 113.60 L1039.83 112.90 L1040.11 112.20 L1040.40 111.50 L1040.68 110.80 L1040.96 110.11 L1041.25 109.42 L1041.53 108.74 L1041.81 108.06 L1042.10 107.38 L1042.38 106.70 L1042.66 106.03 L1042.95 105.37 L1043.23 104.70 L1043.51 104.04 L1043.80 103.39 L1044.08 102.74 L1044.36 102.09 L1044.64 101.45 L1044.93 100.81 L1045.21 100.17 L1045.49 99.54 L1045.78 98.92 L1046.06 98.30 L1046.34 97.68 L1046.63 97.07 L1046.91 96.46 L1047.19 95.86 L1047.48 95.27 L1047.76 94.67 L1048.04 94.09 L1048.33 93.51 L1048.61 92.93 L1048.89 92.36 L1049.17 91.80 L1049.46 91.24 L1049.74 90.69 L1050.02 90.15 L1050.31 89.61 L1050.59 89.08 L1050.87 88.55 L1051.16 88.03 L1051.44 87.52 L1051.72 87.01 L1052.01 86.51 L1052.29 86.02 L1052.57 85.54 L1052.86 85.06 L1053.14 84.59 L1053.42 84.13 L1053.70 83.68 L1053.99 83.23 L1054.27 82.80 L1054.55 82.37 L1054.84 81.95 L1055.12 81.54 L1055.40 81.14 L1055.69 80.74 L1055.97 80.36 L1056.25 79.99 L1056.54 79.62 L1056.82 79.27 L1057.10 78.92 L1057.38 78.59 L1057.67 78.27 L1057.95 77.95 L1058.23 77.65 L1058.52 77.36 L1058.80 77.08 L1059.08 76.81 L1059.37 76.56 L1059.65 76.31 L1059.93 76.08 L1060.22 75.86 L1060.50 75.66 L1060.78 75.47 L1061.07 75.29 L1061.35 75.12 L1061.63 74.97 L1061.91 74.83 L1062.20 74.71 L1062.48 74.60 L1062.76 74.51 L1063.05 74.43 L1063.33 74.37 L1063.61 74.32 L1063.90 74.29 L1064.18 74.28 L1064.46 74.28 L1064.75 74.31 L1065.03 74.34 L1065.31 74.40 L1065.60 74.48 L1065.88 74.57 L1066.16 74.68 L1066.44 74.82 L1066.73 74.97 L1067.01 75.14 L1067.29 75.34 L1067.58 75.55 L1067.86 75.79 L1068.14 76.05 L1068.43 76.33 L1068.71 76.64 L1068.99 76.96 L1069.28 77.31 L1069.56 77.69 L1069.84 78.09 L1070.13 78.52 L1070.41 78.97 L1070.69 79.45 L1070.97 79.95 L1071.26 80.49 L1071.54 81.05 L1071.82 81.64 L1072.11 82.26 L1072.39 82.90 L1072.67 83.58 L1072.96 84.29 L1073.24 85.03 L1073.52 85.81 L1073.81 86.61 L1074.09 87.46 L1074.37 88.33 L1074.66 89.24 L1074.94 90.18 L1075.22 91.16 L1075.50 92.18 L1075.79 93.24 L1076.07 94.33 L1076.35 95.47 L1076.64 96.64 L1076.92 97.86 L1077.20 99.11 L1077.49 100.41 L1077.77 101.76 L1078.05 103.14 L1078.34 104.58 L1078.62 106.06 L1078.90 107.58 L1079.18 109.16 L1079.47 110.78 L1079.75 112.45 L1080.03 114.18 L1080.32 115.95 L1080.60 117.78 L1080.88 119.67 L1081.17 121.60 L1081.45 123.60 L1081.73 125.65 L1082.02 127.76 L1082.30 129.94 L1082.58 132.17 L1082.87 134.46 L1083.15 136.82 L1083.43 139.25 L1083.71 141.74 L1084.00 144.29 L1084.28 146.92 L1084.56 149.62 L1084.85 152.38 L1085.13 155.22 L1085.41 158.14 L1085.70 161.13 L1085.98 164.20 L1086.26 167.35 L1086.55 170.58 L1086.83 173.89 L1087.11 177.29 L1087.40 180.77 L1087.68 184.34 L1087.96 188.00" fill="none" stroke="#000" stroke-width="1.45" stroke-linejoin="round" clip-path="url(#clipB)"/>
<path d="M1088.19 191.00 L1088.24 191.69 L1088.29 192.39 L1088.34 193.09 L1088.40 193.79 L1088.45 194.50 L1088.50 195.20 L1088.55 195.92 L1088.60 196.63 L1088.65 197.35 L1088.71 198.07 L1088.76 198.79 L1088.81 199.52 L1088.86 200.25 L1088.91 200.99 L1088.97 201.73 L1089.02 202.47 L1089.07 203.21 L1089.12 203.96 L1089.17 204.71 L1089.22 205.46 L1089.28 206.22 L1089.33 206.98 L1089.38 207.74 L1089.43 208.51 L1089.48 209.28 L1089.54 210.06 L1089.59 210.83 L1089.64 211.62 L1089.69 212.40" fill="none" stroke="#000" stroke-width="1.45" stroke-linejoin="round" clip-path="url(#clipB)"/>
<path d="M1090.18 220.00 L1090.23 220.70 L1090.27 221.40 L1090.31 222.10 L1090.36 222.80 L1090.40 223.51 L1090.45 224.22 L1090.49 224.94 L1090.53 225.65 L1090.58 226.37 L1090.62 227.09 L1090.67 227.81 L1090.71 228.54 L1090.75 229.27 L1090.80 230.00 L1090.84 230.73 L1090.89 231.47 L1090.93 232.21 L1090.97 232.95 L1091.02 233.70 L1091.06 234.45 L1091.11 235.20 L1091.15 235.95 L1091.19 236.71 L1091.24 237.46 L1091.28 238.23 L1091.33 238.99 L1091.37 239.76 L1091.41 240.53 L1091.46 241.30" fill="none" stroke="#000" stroke-width="1.45" stroke-linejoin="round" clip-path="url(#clipB)"/>
<path d="M1092.17 254.30 L1092.21 254.98 L1092.25 255.66 L1092.28 256.35 L1092.32 257.04 L1092.36 257.73 L1092.39 258.42 L1092.43 259.11 L1092.47 259.81 L1092.50 260.50 L1092.54 261.20 L1092.58 261.91 L1092.61 262.61 L1092.65 263.32 L1092.69 264.02 L1092.72 264.73 L1092.76 265.45 L1092.79 266.16 L1092.83 266.88 L1092.87 267.60 L1092.90 268.32 L1092.94 269.04 L1092.98 269.76 L1093.01 270.49 L1093.05 271.22 L1093.09 271.95 L1093.12 272.69 L1093.16 273.42 L1093.20 274.16 L1093.23 274.90" fill="none" stroke="#000" stroke-width="1.45" stroke-linejoin="round" clip-path="url(#clipB)"/>
<path d="M1093.89 288.60 L1093.93 289.48 L1093.97 290.35 L1094.01 291.24 L1094.05 292.12 L1094.09 293.01 L1094.13 293.90 L1094.17 294.79 L1094.21 295.69 L1094.25 296.59 L1094.30 297.49 L1094.34 298.39 L1094.38 299.30 L1094.42 300.21 L1094.46 301.13 L1094.50 302.04 L1094.54 302.96 L1094.58 303.89 L1094.62 304.81 L1094.66 305.74 L1094.70 306.67 L1094.74 307.61 L1094.78 308.55 L1094.83 309.49 L1094.87 310.43 L1094.91 311.38 L1094.95 312.33 L1094.99 313.28 L1095.03 314.24 L1095.07 315.20" fill="none" stroke="#000" stroke-width="1.45" stroke-linejoin="round" clip-path="url(#clipB)"/>
<path d="M1095.60 327.90 L1095.64 329.03 L1095.69 330.16 L1095.73 331.30 L1095.78 332.45 L1095.83 333.59 L1095.87 334.74 L1095.92 335.90 L1095.96 337.06 L1096.01 338.22 L1096.06 339.39 L1096.10 340.56 L1096.15 341.74 L1096.19 342.92 L1096.24 344.10 L1096.29 345.29 L1096.33 346.49 L1096.38 347.68 L1096.42 348.89 L1096.47 350.09 L1096.51 351.30 L1096.56 352.52 L1096.61 353.74 L1096.65 354.96 L1096.70 356.19 L1096.74 357.42 L1096.79 358.66 L1096.84 359.90 L1096.88 361.15 L1096.93 362.40" fill="none" stroke="#000" stroke-width="1.45" stroke-linejoin="round" clip-path="url(#clipB)"/>
<path d="M1097.37 374.80 L1097.42 376.15 L1097.47 377.50 L1097.52 378.86 L1097.56 380.22 L1097.61 381.59 L1097.66 382.96 L1097.71 384.34 L1097.75 385.73 L1097.80 387.12 L1097.85 388.51 L1097.90 389.91 L1097.94 391.31 L1097.99 392.72 L1098.04 394.14 L1098.09 395.56 L1098.14 396.98 L1098.18 398.41 L1098.23 399.85 L1098.28 401.29 L1098.33 402.74 L1098.37 404.19 L1098.42 405.65 L1098.47 407.11 L1098.52 408.58 L1098.56 410.05 L1098.61 411.53 L1098.66 413.01 L1098.71 414.50 L1098.75 416.00" fill="none" stroke="#000" stroke-width="1.45" stroke-linejoin="round" clip-path="url(#clipB)"/>
<path d="M787.50 323.81 L787.75 324.13 L788.00 332.23 L788.25 320.30 L788.50 315.62 L788.75 319.70 L789.00 314.60 L789.25 326.70 L789.50 328.98 L789.75 327.38 L790.00 325.25 L790.25 313.62 L790.50 344.53 L790.75 343.44 L791.00 325.47 L791.25 312.09 L791.50 326.44 L791.75 328.86 L792.00 335.79 L792.25 331.99 L792.50 326.12 L792.75 353.03 L793.00 320.46 L793.25 344.51 L793.50 316.51 L793.75 335.57 L794.00 325.21 L794.25 333.01 L794.50 320.72 L794.75 310.90 L795.00 305.41 L795.25 321.14 L795.50 324.50 L795.75 322.16 L796.00 319.06 L796.25 327.67 L796.50 331.62 L796.75 306.10 L797.00 320.72 L797.25 309.77 L797.50 342.61 L797.75 328.43 L798.00 323.38 L798.25 313.60 L798.50 317.85 L798.75 323.73 L799.00 315.52 L799.25 303.50 L799.50 319.82 L799.75 323.82 L800.00 308.14 L800.25 306.22 L800.50 314.35 L800.75 312.71 L801.00 307.24 L801.25 312.31 L801.50 305.13 L801.75 319.78 L802.00 323.29 L802.25 316.90 L802.50 312.32 L802.75 304.89 L803.00 305.57 L803.25 331.27 L803.50 308.47 L803.75 304.72 L804.00 318.01 L804.25 311.07 L804.50 307.64 L804.75 330.42 L805.00 314.68 L805.25 332.20 L805.50 295.60 L805.75 316.54 L806.00 315.20 L806.25 311.36 L806.50 316.99 L806.75 315.95 L807.00 310.76 L807.25 302.58 L807.50 304.83 L807.75 308.14 L808.00 304.49 L808.25 308.07 L808.50 316.16 L808.75 304.28 L809.00 319.92 L809.25 318.92 L809.50 306.95 L809.75 309.68 L810.00 293.70 L810.25 317.44 L810.50 294.66 L810.75 304.88 L811.00 322.19 L811.25 311.99 L811.50 318.89 L811.75 306.25 L812.00 307.74 L812.25 298.79 L812.50 327.27 L812.75 303.96 L813.00 306.59 L813.25 303.48 L813.50 284.35 L813.75 290.24 L814.00 301.72 L814.25 286.91 L814.50 298.88 L814.75 302.27 L815.00 294.93 L815.25 292.67 L815.50 308.18 L815.75 302.68 L816.00 298.94 L816.25 309.93 L816.50 303.02 L816.75 294.26 L817.00 320.95 L817.25 306.31 L817.50 304.59 L817.75 301.29 L818.00 321.42 L818.25 292.53 L818.50 293.75 L818.75 293.21 L819.00 287.93 L819.25 298.87 L819.50 296.92 L819.75 295.26 L820.00 291.55 L820.25 305.11 L820.50 300.15 L820.75 302.83 L821.00 302.71 L821.25 298.28 L821.50 293.28 L821.75 291.17 L822.00 301.61 L822.25 293.25 L822.50 287.91 L822.75 292.96 L823.00 293.39 L823.25 290.86 L823.50 283.01 L823.75 293.68 L824.00 287.64 L824.25 290.92 L824.50 285.51 L824.75 305.74 L825.00 291.61 L825.25 283.86 L825.50 287.10 L825.75 285.22 L826.00 293.15 L826.25 287.93 L826.50 283.43 L826.75 288.00 L827.00 298.16 L827.25 296.83 L827.50 292.65 L827.75 291.67 L828.00 285.96 L828.25 277.36 L828.50 279.97 L828.75 292.97 L829.00 290.62 L829.25 293.09 L829.50 286.01 L829.75 295.80 L830.00 278.40 L830.25 286.85 L830.50 294.90 L830.75 280.46 L831.00 296.49 L831.25 283.40 L831.50 284.17 L831.75 276.00 L832.00 294.20 L832.25 284.58 L832.50 271.49 L832.75 284.43 L833.00 290.97 L833.25 279.00 L833.50 279.77 L833.75 284.54 L834.00 293.15 L834.25 283.86 L834.50 288.67 L834.75 294.22 L835.00 282.41 L835.25 284.68 L835.50 282.42 L835.75 277.82 L836.00 285.66 L836.25 277.33 L836.50 275.05 L836.75 283.04 L837.00 289.41 L837.25 286.54 L837.50 283.24 L837.75 281.33 L838.00 272.71 L838.25 276.73 L838.50 274.36 L838.75 270.05 L839.00 278.13 L839.25 275.89 L839.50 272.76 L839.75 270.26 L840.00 279.31 L840.25 284.19 L840.50 273.98 L840.75 267.09 L841.00 275.48 L841.25 276.20 L841.50 278.36 L841.75 271.90 L842.00 273.53 L842.25 270.38 L842.50 266.17 L842.75 276.65 L843.00 275.71 L843.25 277.73 L843.50 271.57 L843.75 271.36 L844.00 273.07 L844.25 268.74 L844.50 273.06 L844.75 265.05 L845.00 272.24 L845.25 271.84 L845.50 269.18 L845.75 266.86 L846.00 261.59 L846.25 263.89 L846.50 264.31 L846.75 258.47 L847.00 265.51 L847.25 275.98 L847.50 263.52 L847.75 261.04 L848.00 270.75 L848.25 263.31 L848.50 272.74 L848.75 266.68 L849.00 264.80 L849.25 271.13 L849.50 271.66 L849.75 263.34 L850.00 265.23 L850.25 266.19 L850.50 259.83 L850.75 275.74 L851.00 269.61 L851.25 270.02 L851.50 266.14 L851.75 267.44 L852.00 263.16 L852.25 266.91 L852.50 261.68 L852.75 262.74 L853.00 266.48 L853.25 281.00 L853.50 260.89 L853.75 269.74 L854.00 260.81 L854.25 257.63 L854.50 261.34 L854.75 260.60 L855.00 258.92 L855.25 261.92 L855.50 260.84 L855.75 262.06 L856.00 265.27 L856.25 257.82 L856.50 258.02 L856.75 256.03 L857.00 257.73 L857.25 260.11 L857.50 270.69 L857.75 260.91 L858.00 255.60 L858.25 253.58 L858.50 270.13 L858.75 264.41 L859.00 256.04 L859.25 252.45 L859.50 254.17 L859.75 259.82 L860.00 263.58 L860.25 244.71 L860.50 264.40 L860.75 259.27 L861.00 258.75 L861.25 260.18 L861.50 255.68 L861.75 255.22 L862.00 259.40 L862.25 251.96 L862.50 247.16 L862.75 254.18 L863.00 255.96 L863.25 250.47 L863.50 250.35 L863.75 253.45 L864.00 250.15 L864.25 252.46 L864.50 258.29 L864.75 244.20 L865.00 247.51 L865.25 253.15 L865.50 251.14 L865.75 248.36 L866.00 252.74 L866.25 252.67 L866.50 254.85 L866.75 242.65 L867.00 252.45 L867.25 250.82 L867.50 253.98 L867.75 248.31 L868.00 244.38 L868.25 245.46 L868.50 252.72 L868.75 244.14 L869.00 246.87 L869.25 251.81 L869.50 243.94 L869.75 248.42 L870.00 236.41 L870.25 247.42 L870.50 241.17 L870.75 244.40 L871.00 252.27 L871.25 249.95 L871.50 250.88 L871.75 247.87 L872.00 249.53 L872.25 243.40 L872.50 248.18 L872.75 244.21 L873.00 250.70 L873.25 240.43 L873.50 242.00 L873.75 245.16 L874.00 242.67 L874.25 240.29 L874.50 236.64 L874.75 240.52 L875.00 240.69 L875.25 240.08 L875.50 243.81 L875.75 241.37 L876.00 243.43 L876.25 244.45 L876.50 243.01 L876.75 245.05 L877.00 234.60 L877.25 235.07 L877.50 238.05 L877.75 243.94 L878.00 236.90 L878.25 239.69 L878.50 234.15 L878.75 240.44 L879.00 241.11 L879.25 235.98 L879.50 240.37 L879.75 235.79 L880.00 231.41 L880.25 238.94 L880.50 240.37 L880.75 236.32 L881.00 234.72 L881.25 230.40 L881.50 234.43 L881.75 235.03 L882.00 243.07 L882.25 233.54 L882.50 233.65 L882.75 231.21 L883.00 230.89 L883.25 235.67 L883.50 231.22 L883.75 230.59 L884.00 231.53 L884.25 237.02 L884.50 226.31 L884.75 232.66 L885.00 232.83 L885.25 225.95 L885.50 228.57 L885.75 232.36 L886.00 237.21 L886.25 227.44 L886.50 234.15 L886.75 224.17 L887.00 230.16 L887.25 226.13 L887.50 225.86 L887.75 228.12 L888.00 229.71 L888.25 227.82 L888.50 223.83 L888.75 228.00 L889.00 230.43 L889.25 223.09 L889.50 226.13 L889.75 230.14 L890.00 230.72 L890.25 225.63 L890.50 220.59 L890.75 224.21 L891.00 223.25 L891.25 227.49 L891.50 223.43 L891.75 222.69 L892.00 222.37 L892.25 224.69 L892.50 219.87 L892.75 222.56 L893.00 220.40 L893.25 223.17 L893.50 219.96 L893.75 219.12 L894.00 226.72 L894.25 223.65 L894.50 221.98 L894.75 220.27 L895.00 222.60 L895.25 222.46 L895.50 224.36 L895.75 219.67 L896.00 217.05 L896.25 220.30 L896.50 221.53 L896.75 215.77 L897.00 223.04 L897.25 219.40 L897.50 216.50 L897.75 220.21 L898.00 221.88 L898.25 216.65 L898.50 214.31 L898.75 216.71 L899.00 216.76 L899.25 218.69 L899.50 216.75 L899.75 212.25 L900.00 213.79 L900.25 213.83 L900.50 218.46 L900.75 216.82 L901.00 212.67 L901.25 214.06 L901.50 209.68 L901.75 213.00 L902.00 210.98 L902.25 212.93 L902.50 212.09 L902.75 214.79 L903.00 211.30 L903.25 214.69 L903.50 213.16 L903.75 209.90 L904.00 211.58 L904.25 212.36 L904.50 208.33 L904.75 211.85 L905.00 210.47 L905.25 214.78 L905.50 214.12 L905.75 208.05 L906.00 207.40 L906.25 209.97 L906.50 210.65 L906.75 208.94 L907.00 208.99 L907.25 211.96 L907.50 206.84 L907.75 209.04 L908.00 209.93 L908.25 207.27 L908.50 208.39 L908.75 209.04 L909.00 205.61 L909.25 206.21 L909.50 208.63 L909.75 204.69 L910.00 208.75 L910.25 205.04 L910.50 206.58 L910.75 204.28 L911.00 205.74 L911.25 206.05 L911.50 203.36 L911.75 203.05 L912.00 203.72 L912.25 207.13 L912.50 202.13 L912.75 205.01 L913.00 204.34 L913.25 202.12 L913.50 202.89 L913.75 204.98 L914.00 200.52 L914.25 199.69 L914.50 201.58 L914.75 200.52 L915.00 204.07 L915.25 202.94 L915.50 197.11 L915.75 201.00 L916.00 199.00 L916.25 201.10 L916.50 198.01 L916.75 198.68 L917.00 199.88 L917.25 198.52 L917.50 199.77 L917.75 197.14 L918.00 196.39 L918.25 197.56 L918.50 197.82 L918.75 197.41 L919.00 196.92 L919.25 194.46 L919.50 196.01 L919.75 195.90 L920.00 198.18 L920.25 198.59 L920.50 196.17 L920.75 193.32 L921.00 196.12 L921.25 193.95 L921.50 195.04 L921.75 193.26 L922.00 195.77 L922.25 194.43 L922.50 192.77 L922.75 195.32 L923.00 190.49 L923.25 191.47 L923.50 190.74 L923.75 192.25 L924.00 191.69 L924.25 189.43 L924.50 190.94 L924.75 191.68 L925.00 192.03 L925.25 188.42 L925.50 188.79 L925.75 191.91 L926.00 189.46 L926.25 189.00 L926.50 190.60 L926.75 189.98 L927.00 187.22 L927.25 188.45 L927.50 187.76 L927.75 188.56 L928.00 187.09 L928.25 187.99 L928.50 184.59 L928.75 186.97 L929.00 188.95 L929.25 187.43 L929.50 188.35 L929.75 186.54 L930.00 185.50 L930.25 184.70 L930.50 184.82 L930.75 186.70 L931.00 184.67 L931.25 184.92 L931.50 184.88 L931.75 183.62 L932.00 185.10 L932.25 181.61 L932.50 184.16 L932.75 183.27 L933.00 183.00 L933.25 182.14 L933.50 180.69 L933.75 182.94 L934.00 181.67 L934.25 182.01 L934.50 181.21 L934.75 180.82 L935.00 183.14 L935.25 180.06 L935.50 179.96 L935.75 179.62 L936.00 179.45 L936.25 179.22 L936.50 178.87 L936.75 178.22 L937.00 178.88 L937.25 178.03 L937.50 177.48 L937.75 177.67 L938.00 178.56 L938.25 177.83 L938.50 178.11 L938.75 177.42 L939.00 176.82 L939.25 176.79 L939.50 175.08 L939.75 176.62 L940.00 175.73 L940.25 176.29 L940.50 174.68 L940.75 174.59 L941.00 175.27 L941.25 173.87 L941.50 173.25 L941.75 173.23 L942.00 173.92 L942.25 174.57 L942.50 173.36 L942.75 172.80 L943.00 172.33 L943.25 171.60 L943.50 171.71 L943.75 172.45 L944.00 171.65 L944.25 171.88 L944.50 171.43 L944.75 170.26 L945.00 171.31 L945.25 170.90 L945.50 169.45 L945.75 169.05 L946.00 169.57 L946.25 169.21 L946.50 169.07 L946.75 168.83 L947.00 168.81 L947.25 168.05 L947.50 167.42 L947.75 168.77 L948.00 167.40 L948.25 167.72 L948.50 167.16 L948.75 166.38 L949.00 166.78 L949.25 166.16 L949.50 166.54 L949.75 165.84 L950.00 165.78 L950.25 165.89 L950.50 164.76 L950.75 165.26 L951.00 164.59 L951.25 164.38 L951.50 164.08 L951.75 164.13 L952.00 163.72 L952.25 163.97 L952.50 163.22 L952.75 162.84 L953.00 163.06 L953.25 162.81 L953.50 162.56 L953.75 162.34 L954.00 161.55 L954.25 161.89 L954.50 161.19 L954.75 161.14 L955.00 160.60 L955.25 160.08 L955.50 160.50 L955.75 160.15 L956.00 159.70 L956.25 159.46 L956.50 159.73 L956.75 159.40 L957.00 158.55 L957.25 158.71 L957.50 158.37 L957.75 158.14 L958.00 157.84 L958.25 157.63 L958.50 157.39 L958.75 157.44 L959.00 156.69 L959.25 156.62 L959.50 156.50 L959.75 156.14 L960.00 155.69 L960.25 155.59 L960.50 155.36 L960.75 154.99 L961.00 154.70 L961.25 154.61 L961.50 154.53 L961.75 154.02 L962.00 153.80 L962.25 153.74 L962.50 153.27 L962.75 153.01 L963.00 152.82 L963.25 152.51 L963.50 152.25 L963.75 152.34 L964.00 151.88 L964.25 151.43 L964.50 151.21 L964.75 151.08 L965.00 150.86 L965.25 150.69 L965.50 150.17 L965.75 150.27 L966.00 149.77 L966.25 149.61 L966.50 149.47 L966.75 148.95 L967.00 148.94 L967.25 148.94 L967.50 148.34 L967.75 148.07 L968.00 147.81 L968.25 147.69 L968.50 147.29 L968.75 147.03 L969.00 146.90 L969.25 146.87 L969.50 146.42 L969.75 146.07 L970.00 145.75 L970.25 145.70 L970.50 145.51 L970.75 145.05 L971.00 144.81 L971.25 144.69 L971.50 144.55 L971.75 144.17 L972.00 143.85 L972.25 143.51 L972.50 143.68 L972.75 143.29 L973.00 142.83 L973.25 142.84 L973.50 142.55 L973.75 142.15 L974.00 141.91 L974.25 141.80 L974.50 141.69 L974.75 141.28 L975.00 141.05 L975.25 140.94 L975.50 140.33 L975.75 140.24 L976.00 139.97 L976.25 139.88 L976.50 139.35 L976.75 139.27 L977.00 138.84 L977.25 138.81 L977.50 138.45 L977.75 138.19 L978.00 138.12 L978.25 137.71 L978.50 137.49 L978.75 137.22 L979.00 136.98 L979.25 136.71 L979.50 136.42 L979.75 136.20 L980.00 135.79 L980.25 135.73 L980.50 135.61 L980.75 135.12 L981.00 135.06 L981.25 134.72 L981.50 134.45 L981.75 134.19 L982.00 133.80 L982.25 133.91 L982.50 133.40 L982.75 133.20 L983.00 133.16 L983.25 132.86 L983.50 132.50 L983.75 132.27 L984.00 132.05 L984.25 131.88 L984.50 131.33 L984.75 131.58 L985.00 131.04 L985.25 131.00 L985.50 130.60 L985.75 130.56 L986.00 130.09 L986.25 129.75 L986.50 129.60 L986.75 129.50 L987.00 129.06 L987.25 128.84 L987.50 128.52 L987.75 128.57 L988.00 128.00 L988.25 127.72 L988.50 127.44 L988.75 127.28 L989.00 127.09 L989.25 126.69 L989.50 126.77 L989.75 126.37 L990.00 126.36 L990.25 125.68 L990.50 125.65 L990.75 125.41 L991.00 125.26 L991.25 125.11 L991.50 124.53 L991.75 124.46 L992.00 124.19 L992.25 123.84 L992.50 123.62 L992.75 123.44 L993.00 123.15 L993.25 123.10 L993.50 122.60 L993.75 122.45 L994.00 122.17 L994.25 121.80 L994.50 122.16 L994.75 121.43 L995.00 121.13 L995.25 121.21 L995.50 120.79 L995.75 120.61 L996.00 120.26 L996.25 120.01 L996.50 119.68 L996.75 119.52 L997.00 119.44 L997.25 119.01 L997.50 118.73 L997.75 118.49 L998.00 118.15 L998.25 118.14 L998.50 117.71 L998.75 117.53 L999.00 117.44 L999.25 116.87 L999.50 116.73 L999.75 116.45 L1000.00 116.37 L1000.25 116.21 L1000.50 115.85 L1000.75 115.55 L1001.00 115.43 L1001.25 114.96 L1001.50 114.85 L1001.75 114.51 L1002.00 114.31 L1002.25 114.16 L1002.50 114.03 L1002.75 113.78 L1003.00 113.37 L1003.25 113.04 L1003.50 112.84 L1003.75 112.76 L1004.00 112.53 L1004.25 112.36 L1004.50 111.84 L1004.75 111.75 L1005.00 111.56 L1005.25 111.27 L1005.50 110.95 L1005.75 110.76 L1006.00 110.52 L1006.25 110.18 L1006.50 109.97 L1006.75 109.65 L1007.00 109.31 L1007.25 109.41 L1007.50 108.95 L1007.75 108.77 L1008.00 108.80 L1008.25 108.14 L1008.50 108.19 L1008.75 107.79 L1009.00 107.52 L1009.25 107.38 L1009.50 107.04 L1009.75 107.19 L1010.00 106.47 L1010.25 106.39 L1010.50 106.00 L1010.75 105.81 L1011.00 105.53 L1011.25 105.68 L1011.50 105.31 L1011.75 105.26 L1012.00 105.03 L1012.25 104.69 L1012.50 104.34 L1012.75 104.28 L1013.00 103.58 L1013.25 103.44 L1013.50 103.09 L1013.75 103.04 L1014.00 102.88 L1014.25 102.57 L1014.50 102.37 L1014.75 102.14 L1015.00 101.85 L1015.25 101.43 L1015.50 101.33 L1015.75 101.01 L1016.00 100.81 L1016.25 100.87 L1016.50 100.37 L1016.75 100.02 L1017.00 99.91 L1017.25 99.62 L1017.50 99.58 L1017.75 99.20 L1018.00 98.83 L1018.25 98.74 L1018.50 98.44 L1018.75 98.13 L1019.00 97.77 L1019.25 97.75 L1019.50 97.42 L1019.75 97.35 L1020.00 97.22 L1020.25 97.25 L1020.50 96.55 L1020.75 96.28 L1021.00 95.96 L1021.25 95.90 L1021.50 95.40 L1021.75 95.27 L1022.00 95.12 L1022.25 94.92 L1022.50 94.55 L1022.75 94.52 L1023.00 94.09 L1023.25 94.02 L1023.50 93.73 L1023.75 93.54 L1024.00 93.05 L1024.25 92.95 L1024.50 92.95 L1024.75 92.67 L1025.00 92.21 L1025.25 92.05 L1025.50 91.85 L1025.75 91.41 L1026.00 91.30 L1026.25 91.20 L1026.50 90.93 L1026.75 90.63 L1027.00 90.35 L1027.25 90.20 L1027.50 89.94 L1027.75 89.66 L1028.00 89.36 L1028.25 89.28 L1028.50 88.93 L1028.75 88.86 L1029.00 88.53 L1029.25 88.69 L1029.50 88.21 L1029.75 88.10 L1030.00 87.84 L1030.25 87.67 L1030.50 87.45 L1030.75 87.16 L1031.00 87.13 L1031.25 86.82 L1031.50 86.44 L1031.75 86.19 L1032.00 86.20 L1032.25 85.89 L1032.50 85.58 L1032.75 85.22 L1033.00 85.08 L1033.25 84.86 L1033.50 84.86 L1033.75 84.55 L1034.00 84.33 L1034.25 84.16 L1034.50 83.97 L1034.75 83.71 L1035.00 83.50 L1035.25 83.22 L1035.50 83.07 L1035.75 82.94 L1036.00 82.68 L1036.25 82.53 L1036.50 82.30 L1036.75 82.04 L1037.00 81.73 L1037.25 81.77 L1037.50 81.41 L1037.75 81.14 L1038.00 80.87 L1038.25 80.60 L1038.50 80.49 L1038.75 80.23 L1039.00 79.99 L1039.25 79.96 L1039.50 79.98 L1039.75 79.37 L1040.00 79.49 L1040.25 79.03 L1040.50 78.68 L1040.75 78.71 L1041.00 78.53 L1041.25 78.50 L1041.50 77.93 L1041.75 77.82 L1042.00 77.81 L1042.25 77.24 L1042.50 77.19 L1042.75 77.05 L1043.00 76.84 L1043.25 76.52 L1043.50 76.37 L1043.75 76.26 L1044.00 76.08 L1044.25 75.83 L1044.50 75.69 L1044.75 75.35 L1045.00 75.04 L1045.25 75.15 L1045.50 74.86 L1045.75 74.64 L1046.00 74.61 L1046.25 74.12 L1046.50 74.21 L1046.75 73.93 L1047.00 73.81 L1047.25 73.62 L1047.50 73.38 L1047.75 73.48 L1048.00 72.99 L1048.25 73.01 L1048.50 72.90 L1048.75 72.99 L1049.00 72.72 L1049.25 72.41 L1049.50 72.23 L1049.75 72.42 L1050.00 72.23 L1050.25 72.10 L1050.50 71.65 L1050.75 71.70 L1051.00 71.75 L1051.25 71.34 L1051.50 71.43 L1051.75 71.29 L1052.00 71.21 L1052.25 71.14 L1052.50 71.13 L1052.75 70.74 L1053.00 70.53 L1053.25 70.43 L1053.50 70.56 L1053.75 70.06 L1054.00 70.08 L1054.25 70.17 L1054.50 69.89 L1054.75 69.80 L1055.00 69.82 L1055.25 69.63 L1055.50 69.64 L1055.75 69.43 L1056.00 69.30 L1056.25 69.19 L1056.50 69.05 L1056.75 69.09 L1057.00 69.05 L1057.25 68.84 L1057.50 69.01 L1057.75 68.64 L1058.00 68.58 L1058.25 68.46 L1058.50 68.50 L1058.75 68.51 L1059.00 68.27 L1059.25 68.11 L1059.50 68.02 L1059.75 68.06 L1060.00 67.94 L1060.25 67.77 L1060.50 67.74 L1060.75 67.63 L1061.00 67.52 L1061.25 67.56 L1061.50 67.51 L1061.75 67.55 L1062.00 67.65 L1062.25 67.36 L1062.50 67.45 L1062.75 67.47 L1063.00 67.32 L1063.25 67.44 L1063.50 67.35 L1063.75 67.19 L1064.00 67.48 L1064.25 67.29 L1064.50 67.42 L1064.75 67.20 L1065.00 67.25 L1065.25 67.30 L1065.50 67.40 L1065.75 67.40 L1066.00 67.47 L1066.25 67.27 L1066.50 67.40 L1066.75 67.51 L1067.00 67.60 L1067.25 67.31 L1067.50 67.61 L1067.75 67.25 L1068.00 67.33 L1068.25 67.61 L1068.50 67.50 L1068.75 67.80 L1069.00 67.36 L1069.25 67.64 L1069.50 67.50 L1069.75 67.64 L1070.00 67.99 L1070.25 67.46 L1070.50 67.57 L1070.75 67.70 L1071.00 67.79 L1071.25 67.87 L1071.50 67.85 L1071.75 67.95 L1072.00 68.13 L1072.25 67.98 L1072.50 67.96 L1072.75 67.92 L1073.00 68.05 L1073.25 68.15 L1073.50 68.34 L1073.75 68.52 L1074.00 68.27 L1074.25 68.61 L1074.50 68.57 L1074.75 68.70 L1075.00 69.22 L1075.25 68.91 L1075.50 69.02 L1075.75 69.31 L1076.00 69.24 L1076.25 69.18 L1076.50 69.64 L1076.75 69.55 L1077.00 69.71 L1077.25 70.06 L1077.50 69.92 L1077.75 70.20 L1078.00 70.23 L1078.25 70.35 L1078.50 70.56 L1078.75 70.44 L1079.00 71.04 L1079.25 71.08 L1079.50 71.22 L1079.75 71.49 L1080.00 71.75 L1080.25 71.81 L1080.50 71.76 L1080.75 72.06 L1081.00 72.17 L1081.25 72.34 L1081.50 72.63 L1081.75 72.95 L1082.00 73.11 L1082.25 73.28 L1082.50 73.55 L1082.75 73.69 L1083.00 73.87 L1083.25 74.22 L1083.50 74.38 L1083.75 74.74 L1084.00 74.87 L1084.25 75.17 L1084.50 75.35 L1084.75 75.40 L1085.00 75.79 L1085.25 75.82 L1085.50 76.27 L1085.75 76.74 L1086.00 76.72 L1086.25 76.96 L1086.50 77.14 L1086.75 77.54 L1087.00 77.90 L1087.25 78.23 L1087.50 78.34 L1087.75 78.63 L1088.00 78.76 L1088.25 79.17 L1088.50 79.54 L1088.75 79.76 L1089.00 80.02 L1089.25 80.46 L1089.50 80.96 L1089.75 81.06 L1090.00 81.46 L1090.25 81.78 L1090.50 82.06 L1090.75 82.53 L1091.00 82.69 L1091.25 83.12 L1091.50 83.46 L1091.75 84.07 L1092.00 84.05 L1092.25 84.39 L1092.50 84.71 L1092.75 85.26 L1093.00 85.38 L1093.25 85.69 L1093.50 86.12 L1093.75 86.62 L1094.00 86.86 L1094.25 87.23 L1094.50 87.60 L1094.75 88.34 L1095.00 88.13 L1095.25 88.50 L1095.50 88.91 L1095.75 89.35 L1096.00 89.62 L1096.25 89.89 L1096.50 90.44 L1096.75 90.68 L1097.00 91.13 L1097.25 91.52 L1097.50 91.88 L1097.75 92.22 L1098.00 92.84 L1098.25 93.15 L1098.50 93.40 L1098.75 93.86 L1099.00 94.37 L1099.25 94.69 L1099.50 95.05 L1099.75 95.44 L1100.00 95.91 L1100.25 96.29 L1100.50 96.99 L1100.75 97.05 L1101.00 97.51 L1101.25 97.95 L1101.50 98.44 L1101.75 98.92 L1102.00 99.37 L1102.25 99.92 L1102.50 100.35 L1102.75 100.88 L1103.00 101.61 L1103.25 101.99 L1103.50 102.61 L1103.75 103.12 L1104.00 103.72 L1104.25 104.42 L1104.50 105.04 L1104.75 105.56 L1105.00 106.26 L1105.25 106.90 L1105.50 107.53 L1105.75 108.19 L1106.00 108.87 L1106.25 109.52 L1106.50 110.26 L1106.75 110.87 L1107.00 111.59 L1107.25 112.20 L1107.50 112.88 L1107.75 113.65 L1108.00 114.38 L1108.25 114.76 L1108.50 115.69 L1108.75 116.32 L1109.00 116.82 L1109.25 117.53 L1109.50 118.27 L1109.75 118.95 L1110.00 119.37 L1110.25 120.07 L1110.50 120.83 L1110.75 121.49 L1111.00 121.96 L1111.25 122.52 L1111.50 123.03 L1111.75 123.77 L1112.00 124.24 L1112.25 124.57 L1112.50 125.10 L1112.75 125.61 L1113.00 126.26 L1113.25 126.78 L1113.50 127.25 L1113.75 127.85 L1114.00 128.14 L1114.25 128.83 L1114.50 129.62 L1114.75 129.84 L1115.00 130.54 L1115.25 131.11 L1115.50 131.70 L1115.75 132.31 L1116.00 132.67 L1116.25 133.47 L1116.50 134.08 L1116.75 134.65 L1117.00 135.37 L1117.25 135.93 L1117.50 136.33 L1117.75 137.22 L1118.00 137.79 L1118.25 138.60 L1118.50 139.26 L1118.75 140.20 L1119.00 141.06 L1119.25 141.86 L1119.50 142.68 L1119.75 143.84 L1120.00 144.52 L1120.25 145.41 L1120.50 146.62 L1120.75 147.36 L1121.00 148.29 L1121.25 149.28 L1121.50 149.97 L1121.75 150.88 L1122.00 151.71 L1122.25 152.66 L1122.50 153.54 L1122.75 154.06 L1123.00 154.88 L1123.25 155.34 L1123.50 156.03 L1123.75 157.41 L1124.00 157.71 L1124.25 158.28 L1124.50 159.10 L1124.75 159.73 L1125.00 160.31 L1125.25 161.21 L1125.50 161.84 L1125.75 162.64 L1126.00 163.50 L1126.25 164.35 L1126.50 165.36 L1126.75 165.97 L1127.00 167.06 L1127.25 166.79 L1127.50 167.88 L1127.75 168.84 L1128.00 170.48 L1128.25 170.55 L1128.50 172.87 L1128.75 172.92 L1129.00 173.39 L1129.25 174.52 L1129.50 175.04 L1129.75 177.49 L1130.00 177.72 L1130.25 180.51 L1130.50 181.29 L1130.75 180.90 L1131.00 183.29 L1131.25 183.14 L1131.50 184.34 L1131.75 185.95 L1132.00 189.02 L1132.25 190.56 L1132.50 189.53 L1132.75 189.83 L1133.00 194.59 L1133.25 192.73 L1133.50 194.64 L1133.75 193.75 L1134.00 195.40 L1134.25 200.00 L1134.50 196.47 L1134.75 199.86 L1135.00 200.72 L1135.25 197.84 L1135.50 206.37 L1135.75 204.00 L1136.00 207.19 L1136.25 210.86 L1136.50 209.56 L1136.75 207.49 L1137.00 213.39 L1137.25 215.26 L1137.50 216.04 L1137.75 213.19 L1138.00 216.32 L1138.25 214.37 L1138.50 217.98 L1138.75 217.44 L1139.00 217.38 L1139.25 226.03 L1139.50 221.73 L1139.75 229.12 L1140.00 223.99 L1140.25 224.40 L1140.50 225.91 L1140.75 229.30 L1141.00 230.29 L1141.25 233.52 L1141.50 234.24 L1141.75 236.48 L1142.00 233.91 L1142.25 232.88 L1142.50 237.45 L1142.75 235.40 L1143.00 238.55 L1143.25 235.99 L1143.50 238.60 L1143.75 237.32 L1144.00 253.00 L1144.25 254.08 L1144.50 247.01 L1144.75 244.04 L1145.00 242.19 L1145.25 247.40 L1145.50 246.00 L1145.75 251.75 L1146.00 248.76 L1146.25 256.66 L1146.50 251.31 L1146.75 253.96 L1147.00 250.11 L1147.25 267.49 L1147.50 251.74 L1147.75 253.50 L1148.00 256.37 L1148.25 267.90 L1148.50 259.64 L1148.75 261.97 L1149.00 269.08 L1149.25 263.21 L1149.50 267.12 L1149.75 271.30 L1150.00 273.72 L1150.25 274.69 L1150.50 275.68 L1150.75 274.67 L1151.00 291.96 L1151.25 267.26 L1151.50 286.63 L1151.75 277.77 L1152.00 282.47 L1152.25 306.46 L1152.50 298.05 L1152.75 285.08 L1153.00 291.30 L1153.25 287.81 L1153.50 293.88 L1153.75 292.48 L1154.00 298.49 L1154.25 293.37 L1154.50 296.79 L1154.75 303.61 L1155.00 304.76 L1155.25 317.94 L1155.50 304.64 L1155.75 316.30 L1156.00 309.95 L1156.25 318.68 L1156.50 315.66 L1156.75 322.56 L1157.00 355.81 L1157.25 318.28 L1157.50 338.50 L1157.75 327.54 L1158.00 337.48 L1158.25 330.94 L1158.50 345.94 L1158.75 358.34 L1159.00 352.13 L1159.25 346.83 L1159.50 364.70" fill="none" stroke="#808080" stroke-width="1.25" stroke-linejoin="round" clip-path="url(#clipB)"/>
<path d="M788.60 322.00 L788.90 363.50 L789.20 319.00" fill="none" stroke="#808080" stroke-width="1.25" stroke-linejoin="round" clip-path="url(#clipB)"/>
<path d="M792.80 330.00 L793.10 363.50 L793.40 327.00" fill="none" stroke="#808080" stroke-width="1.25" stroke-linejoin="round" clip-path="url(#clipB)"/>
<path d="M955.80 323.50 L956.00 316.10 L956.20 323.54 L956.40 326.19 L956.60 326.07 L956.80 319.66 L957.00 332.96 L957.20 317.64 L957.40 358.70 L957.60 330.96 L957.80 309.57 L958.00 322.12 L958.20 301.32 L958.40 334.03 L958.60 312.74 L958.80 306.72 L959.00 319.61 L959.20 306.52 L959.40 325.21 L959.60 314.57 L959.80 331.75 L960.00 326.28 L960.20 310.91 L960.40 323.52 L960.60 326.23 L960.80 336.11 L961.00 304.36 L961.20 332.71 L961.40 330.35 L961.60 317.39 L961.80 348.45 L962.00 313.81 L962.20 313.48 L962.40 303.37 L962.60 318.46 L962.80 322.73 L963.00 308.41 L963.20 300.60 L963.40 332.62 L963.60 305.04 L963.80 328.14 L964.00 314.09 L964.20 316.08 L964.40 309.34 L964.60 293.19 L964.80 306.77 L965.00 314.24 L965.20 314.28 L965.40 301.04 L965.60 329.20 L965.80 309.04 L966.00 303.76 L966.20 296.79 L966.40 291.10 L966.60 297.72 L966.80 304.83 L967.00 301.23 L967.20 306.44 L967.40 318.51 L967.60 309.54 L967.80 290.15 L968.00 315.74 L968.20 311.05 L968.40 297.28 L968.60 294.60 L968.80 287.48 L969.00 296.25 L969.20 298.67 L969.40 292.43 L969.60 295.18 L969.80 293.70 L970.00 294.39 L970.20 291.02 L970.40 293.73 L970.60 310.22 L970.80 304.93 L971.00 293.07 L971.20 284.45 L971.40 283.37 L971.60 286.51 L971.80 294.03 L972.00 288.26 L972.20 283.22 L972.40 278.42 L972.60 282.54 L972.80 291.93 L973.00 284.62 L973.20 275.84 L973.40 280.76 L973.60 289.29 L973.80 287.97 L974.00 283.05 L974.20 277.23 L974.40 287.97 L974.60 277.66 L974.80 278.96 L975.00 273.55 L975.20 286.94 L975.40 285.88 L975.60 280.00 L975.80 282.77 L976.00 269.76 L976.20 281.51 L976.40 267.99 L976.60 274.64 L976.80 273.80 L977.00 271.74 L977.20 282.88 L977.40 293.64 L977.60 262.95 L977.80 275.59 L978.00 279.95 L978.20 271.22 L978.40 276.05 L978.60 264.70 L978.80 266.89 L979.00 277.44 L979.20 277.00 L979.40 268.38 L979.60 275.03 L979.80 273.71 L980.00 271.41 L980.20 277.76 L980.40 269.82 L980.60 259.44 L980.80 273.45 L981.00 258.66 L981.20 266.22 L981.40 258.95 L981.60 259.98 L981.80 268.05 L982.00 256.96 L982.20 259.75 L982.40 258.52 L982.60 254.52 L982.80 259.46 L983.00 251.21 L983.20 256.30 L983.40 251.08 L983.60 256.93 L983.80 254.48 L984.00 260.30 L984.20 256.33 L984.40 253.08 L984.60 255.14 L984.80 260.03 L985.00 250.47 L985.20 251.80 L985.40 252.05 L985.60 251.10 L985.80 248.87 L986.00 246.19 L986.20 248.77 L986.40 245.98 L986.60 243.89 L986.80 245.23 L987.00 250.49 L987.20 248.15 L987.40 247.30 L987.60 247.55 L987.80 242.98 L988.00 243.07 L988.20 240.93 L988.40 241.56 L988.60 239.87 L988.80 244.95 L989.00 238.31 L989.20 238.57 L989.40 243.00 L989.60 239.58 L989.80 237.82 L990.00 237.16 L990.20 233.59 L990.40 242.35 L990.60 239.09 L990.80 233.78 L991.00 232.17 L991.20 235.16 L991.40 231.63 L991.60 235.04 L991.80 233.63 L992.00 230.44 L992.20 230.46 L992.40 234.87 L992.60 227.46 L992.80 228.96 L993.00 230.33 L993.20 227.34 L993.40 226.68 L993.60 227.21 L993.80 225.08 L994.00 228.07 L994.20 223.78 L994.40 221.73 L994.60 230.17 L994.80 221.31 L995.00 223.48 L995.20 222.32 L995.40 220.21 L995.60 217.22 L995.80 222.73 L996.00 221.91 L996.20 219.75 L996.40 217.64 L996.60 221.01 L996.80 214.21 L997.00 217.01 L997.20 217.21 L997.40 214.35 L997.60 212.56 L997.80 211.92 L998.00 210.87 L998.20 210.48 L998.40 211.03 L998.60 208.32 L998.80 211.56 L999.00 208.31 L999.20 210.15 L999.40 208.83 L999.60 205.37 L999.80 206.19 L1000.00 204.94 L1000.20 206.48 L1000.40 207.07 L1000.60 201.99 L1000.80 204.27 L1001.00 202.98 L1001.20 205.32 L1001.40 199.66 L1001.60 202.38 L1001.80 201.24 L1002.00 199.94 L1002.20 199.28 L1002.40 201.13 L1002.60 197.89 L1002.80 198.20 L1003.00 196.46 L1003.20 198.35 L1003.40 194.79 L1003.60 194.26 L1003.80 195.15 L1004.00 194.02 L1004.20 193.45 L1004.40 192.67 L1004.60 193.69 L1004.80 191.11 L1005.00 189.97 L1005.20 189.63 L1005.40 189.57 L1005.60 190.43 L1005.80 187.88 L1006.00 188.09 L1006.20 187.34 L1006.40 187.27 L1006.60 186.52 L1006.80 185.54 L1007.00 184.26 L1007.20 183.86 L1007.40 183.27 L1007.60 183.55 L1007.80 181.55 L1008.00 181.01 L1008.20 180.54 L1008.40 181.07 L1008.60 179.92 L1008.80 179.71 L1009.00 179.24 L1009.20 177.92 L1009.40 177.35 L1009.60 176.02 L1009.80 176.94 L1010.00 175.49 L1010.20 175.68 L1010.40 174.11 L1010.60 174.60 L1010.80 173.74 L1011.00 172.65 L1011.20 172.35 L1011.40 171.18 L1011.60 171.43 L1011.80 170.22 L1012.00 169.96 L1012.20 170.25 L1012.40 168.69 L1012.60 168.35 L1012.80 167.56 L1013.00 167.44 L1013.20 166.84 L1013.40 166.36 L1013.60 165.29 L1013.80 165.46 L1014.00 163.99 L1014.20 163.69 L1014.40 163.30 L1014.60 162.50 L1014.80 162.05 L1015.00 161.40 L1015.20 160.88 L1015.40 160.07 L1015.60 160.03 L1015.80 159.38 L1016.00 158.71 L1016.20 158.17 L1016.40 157.58 L1016.60 156.75 L1016.80 156.68 L1017.00 155.82 L1017.20 155.43 L1017.40 155.02 L1017.60 154.12 L1017.80 153.46 L1018.00 153.07 L1018.20 152.52 L1018.40 151.79 L1018.60 151.38 L1018.80 150.57 L1019.00 149.81 L1019.20 149.61 L1019.40 148.73 L1019.60 148.69 L1019.80 148.23 L1020.00 147.45 L1020.20 146.69 L1020.40 146.45 L1020.60 145.63 L1020.80 145.26 L1021.00 144.50 L1021.20 144.33 L1021.40 143.59 L1021.60 142.83 L1021.80 142.41 L1022.00 141.80 L1022.20 141.52 L1022.40 140.81 L1022.60 140.33 L1022.80 139.83 L1023.00 139.21 L1023.20 138.65 L1023.40 138.24 L1023.60 137.53 L1023.80 137.14 L1024.00 136.43 L1024.20 135.81 L1024.40 135.15 L1024.60 134.73 L1024.80 134.18 L1025.00 133.60 L1025.20 133.52 L1025.40 132.36 L1025.60 132.06 L1025.80 131.41 L1026.00 131.00 L1026.20 130.79 L1026.40 130.05 L1026.60 129.55 L1026.80 128.83 L1027.00 128.01 L1027.20 127.63 L1027.40 127.10 L1027.60 126.46 L1027.80 126.26 L1028.00 125.71 L1028.20 125.39 L1028.40 124.71 L1028.60 124.07 L1028.80 123.47 L1029.00 123.09 L1029.20 122.49 L1029.40 122.15 L1029.60 121.84 L1029.80 121.12 L1030.00 120.63 L1030.20 120.13 L1030.40 119.53 L1030.60 119.03 L1030.80 118.45 L1031.00 117.71 L1031.20 117.22 L1031.40 116.85 L1031.60 116.60 L1031.80 115.77 L1032.00 115.02 L1032.20 114.64 L1032.40 114.74 L1032.60 113.61 L1032.80 113.32 L1033.00 112.77 L1033.20 112.04 L1033.40 111.53 L1033.60 111.27 L1033.80 110.54 L1034.00 110.03 L1034.20 109.67 L1034.40 109.03 L1034.60 108.68 L1034.80 107.93 L1035.00 107.46 L1035.20 106.83 L1035.40 106.41 L1035.60 105.86 L1035.80 105.07 L1036.00 104.76 L1036.20 103.90 L1036.40 103.15 L1036.60 102.90 L1036.80 102.42 L1037.00 101.67 L1037.20 101.04 L1037.40 100.49 L1037.60 99.93 L1037.80 99.16 L1038.00 98.71 L1038.20 98.12 L1038.40 97.59 L1038.60 97.23 L1038.80 96.61 L1039.00 95.86 L1039.20 95.25 L1039.40 94.67 L1039.60 94.02 L1039.80 93.50 L1040.00 93.03 L1040.20 92.44 L1040.40 92.02 L1040.60 91.28 L1040.80 90.94 L1041.00 90.73 L1041.20 89.88 L1041.40 89.24 L1041.60 88.71 L1041.80 88.41 L1042.00 87.90 L1042.20 87.32 L1042.40 86.81 L1042.60 86.59 L1042.80 85.80 L1043.00 85.36 L1043.20 84.91 L1043.40 84.03 L1043.60 84.08 L1043.80 83.51 L1044.00 83.50 L1044.20 82.80 L1044.40 82.64 L1044.60 82.01 L1044.80 81.50 L1045.00 81.25 L1045.20 80.83 L1045.40 80.32 L1045.60 80.22 L1045.80 79.87 L1046.00 79.70 L1046.20 78.80 L1046.40 78.71 L1046.60 78.29 L1046.80 77.72 L1047.00 77.21 L1047.20 76.97 L1047.40 76.37 L1047.60 76.19 L1047.80 75.90 L1048.00 75.59 L1048.20 75.48 L1048.40 74.87 L1048.60 74.72 L1048.80 74.15 L1049.00 73.87 L1049.20 73.48 L1049.40 73.20 L1049.60 72.85 L1049.80 72.68 L1050.00 72.22 L1050.20 71.95 L1050.40 71.41 L1050.60 71.30 L1050.80 71.17 L1051.00 70.74 L1051.20 70.59 L1051.40 70.16 L1051.60 69.76 L1051.80 69.52 L1052.00 69.17 L1052.20 69.19 L1052.40 68.83 L1052.60 68.16 L1052.80 68.01 L1053.00 67.76 L1053.20 67.29 L1053.40 66.98 L1053.60 66.96 L1053.80 66.82 L1054.00 66.21 L1054.20 66.04 L1054.40 65.73 L1054.60 65.40 L1054.80 64.97 L1055.00 64.64 L1055.20 64.48 L1055.40 64.16 L1055.60 63.89 L1055.80 63.61 L1056.00 63.30 L1056.20 63.34 L1056.40 62.78 L1056.60 62.43 L1056.80 62.22 L1057.00 61.97 L1057.20 62.17 L1057.40 61.71 L1057.60 61.39 L1057.80 60.89 L1058.00 60.88 L1058.20 60.51 L1058.40 60.58 L1058.60 60.06 L1058.80 59.74 L1059.00 59.71 L1059.20 59.76 L1059.40 59.38 L1059.60 58.98 L1059.80 59.07 L1060.00 58.84 L1060.20 58.60 L1060.40 58.49 L1060.60 58.07 L1060.80 58.43 L1061.00 57.87 L1061.20 57.65 L1061.40 57.46 L1061.60 57.54 L1061.80 57.14 L1062.00 56.83 L1062.20 56.73 L1062.40 56.63 L1062.60 56.63 L1062.80 56.50 L1063.00 56.00 L1063.20 56.30 L1063.40 55.74 L1063.60 55.69 L1063.80 55.75 L1064.00 55.62 L1064.20 55.38 L1064.40 55.18 L1064.60 55.17 L1064.80 55.08 L1065.00 54.90 L1065.20 54.85 L1065.40 54.91 L1065.60 55.04 L1065.80 54.81 L1066.00 54.38 L1066.20 54.58 L1066.40 54.58 L1066.60 54.17 L1066.80 54.33 L1067.00 54.46 L1067.20 54.10 L1067.40 53.96 L1067.60 54.21 L1067.80 54.09 L1068.00 54.17 L1068.20 53.91 L1068.40 53.92 L1068.60 53.87 L1068.80 53.77 L1069.00 53.53 L1069.20 53.84 L1069.40 53.92 L1069.60 53.43 L1069.80 53.59 L1070.00 53.58 L1070.20 53.88 L1070.40 53.48 L1070.60 53.36 L1070.80 53.74 L1071.00 53.39 L1071.20 53.36 L1071.40 53.87 L1071.60 53.80 L1071.80 53.39 L1072.00 53.60 L1072.20 53.50 L1072.40 53.44 L1072.60 53.97 L1072.80 53.50 L1073.00 53.82 L1073.20 53.63 L1073.40 53.86 L1073.60 53.92 L1073.80 53.79 L1074.00 53.83 L1074.20 53.87 L1074.40 54.13 L1074.60 54.00 L1074.80 54.08 L1075.00 54.01 L1075.20 54.11 L1075.40 54.51 L1075.60 54.45 L1075.80 54.37 L1076.00 54.80 L1076.20 54.59 L1076.40 54.72 L1076.60 54.72 L1076.80 54.84 L1077.00 54.54 L1077.20 54.79 L1077.40 54.81 L1077.60 55.25 L1077.80 55.03 L1078.00 55.57 L1078.20 55.40 L1078.40 55.25 L1078.60 55.38 L1078.80 55.67 L1079.00 55.60 L1079.20 56.04 L1079.40 55.88 L1079.60 55.90 L1079.80 56.34 L1080.00 56.39 L1080.20 56.68 L1080.40 57.15 L1080.60 56.85 L1080.80 57.13 L1081.00 57.16 L1081.20 57.33 L1081.40 57.56 L1081.60 57.84 L1081.80 57.82 L1082.00 58.13 L1082.20 58.11 L1082.40 58.32 L1082.60 58.95 L1082.80 58.72 L1083.00 59.01 L1083.20 58.97 L1083.40 59.63 L1083.60 59.53 L1083.80 59.97 L1084.00 59.93 L1084.20 60.09 L1084.40 60.36 L1084.60 60.71 L1084.80 61.01 L1085.00 61.36 L1085.20 61.61 L1085.40 61.50 L1085.60 61.97 L1085.80 62.27 L1086.00 62.81 L1086.20 62.66 L1086.40 63.19 L1086.60 63.53 L1086.80 63.53 L1087.00 63.66 L1087.20 64.07 L1087.40 64.26 L1087.60 64.54 L1087.80 65.01 L1088.00 65.38 L1088.20 65.74 L1088.40 66.12 L1088.60 66.04 L1088.80 66.74 L1089.00 66.99 L1089.20 67.22 L1089.40 67.77 L1089.60 68.26 L1089.80 68.35 L1090.00 68.35 L1090.20 69.00 L1090.40 69.25 L1090.60 69.59 L1090.80 70.47 L1091.00 70.64 L1091.20 71.04 L1091.40 71.37 L1091.60 71.69 L1091.80 72.47 L1092.00 72.62 L1092.20 72.87 L1092.40 73.03 L1092.60 73.59 L1092.80 73.81 L1093.00 74.30 L1093.20 74.72 L1093.40 74.94 L1093.60 75.22 L1093.80 75.63 L1094.00 76.27 L1094.20 76.70 L1094.40 77.13 L1094.60 77.29 L1094.80 77.98 L1095.00 78.28 L1095.20 78.58 L1095.40 79.32 L1095.60 79.64 L1095.80 80.19 L1096.00 80.49 L1096.20 80.83 L1096.40 81.62 L1096.60 81.88 L1096.80 82.40 L1097.00 83.09 L1097.20 83.34 L1097.40 83.96 L1097.60 84.52 L1097.80 85.01 L1098.00 85.76 L1098.20 86.15 L1098.40 86.16 L1098.60 87.07 L1098.80 87.36 L1099.00 87.63 L1099.20 88.18 L1099.40 88.33 L1099.60 88.95 L1099.80 89.41 L1100.00 89.89 L1100.20 90.32 L1100.40 90.55 L1100.60 91.10 L1100.80 91.45 L1101.00 92.35 L1101.20 92.59 L1101.40 93.00 L1101.60 93.76 L1101.80 94.15 L1102.00 94.74 L1102.20 95.33 L1102.40 96.06 L1102.60 96.56 L1102.80 97.36 L1103.00 97.88 L1103.20 98.60 L1103.40 99.20 L1103.60 99.75 L1103.80 101.07 L1104.00 101.74 L1104.20 102.12 L1104.40 102.81 L1104.60 103.63 L1104.80 104.13 L1105.00 104.82 L1105.20 105.63 L1105.40 106.26 L1105.60 107.02 L1105.80 107.47 L1106.00 108.33 L1106.20 108.98 L1106.40 109.51 L1106.60 110.42 L1106.80 110.99 L1107.00 111.77 L1107.20 112.41 L1107.40 113.06 L1107.60 113.39 L1107.80 114.30 L1108.00 114.98 L1108.20 115.88 L1108.40 116.41 L1108.60 116.93 L1108.80 117.77 L1109.00 118.81 L1109.20 119.38 L1109.40 120.11 L1109.60 120.76 L1109.80 121.54 L1110.00 122.26 L1110.20 123.56 L1110.40 124.34 L1110.60 124.84 L1110.80 125.82 L1111.00 126.65 L1111.20 127.56 L1111.40 128.12 L1111.60 128.81 L1111.80 130.06 L1112.00 130.68 L1112.20 131.76 L1112.40 132.50 L1112.60 133.19 L1112.80 134.03 L1113.00 135.25 L1113.20 135.79 L1113.40 136.67 L1113.60 137.00 L1113.80 137.96 L1114.00 138.99 L1114.20 139.63 L1114.40 140.49 L1114.60 141.37 L1114.80 141.81 L1115.00 142.73 L1115.20 143.61 L1115.40 144.37 L1115.60 145.29 L1115.80 146.03 L1116.00 147.18 L1116.20 147.94 L1116.40 148.41 L1116.60 149.26 L1116.80 150.25 L1117.00 150.72 L1117.20 151.74 L1117.40 152.54 L1117.60 153.71 L1117.80 154.15 L1118.00 155.12 L1118.20 155.98 L1118.40 156.82 L1118.60 157.74 L1118.80 158.17 L1119.00 159.29 L1119.20 159.82 L1119.40 160.90 L1119.60 161.70 L1119.80 162.48 L1120.00 163.40 L1120.20 164.69 L1120.40 164.98 L1120.60 165.73 L1120.80 166.73 L1121.00 167.56 L1121.20 168.57 L1121.40 169.24 L1121.60 170.28 L1121.80 171.71 L1122.00 171.73 L1122.20 173.06 L1122.40 173.84 L1122.60 175.00 L1122.80 175.54 L1123.00 175.99 L1123.20 177.80 L1123.40 178.05 L1123.60 178.81 L1123.80 179.98 L1124.00 180.51 L1124.20 181.69 L1124.40 183.32 L1124.60 183.37 L1124.80 184.65 L1125.00 184.60 L1125.20 185.58 L1125.40 186.90 L1125.60 188.26 L1125.80 189.45 L1126.00 189.37 L1126.20 190.45 L1126.40 193.22 L1126.60 192.25 L1126.80 193.98 L1127.00 195.95 L1127.20 196.97 L1127.40 196.60 L1127.60 198.68 L1127.80 198.38 L1128.00 202.42 L1128.20 203.50 L1128.40 202.34 L1128.60 203.47 L1128.80 207.57 L1129.00 206.23 L1129.20 207.94 L1129.40 209.09 L1129.60 213.66 L1129.80 212.03 L1130.00 212.93 L1130.20 215.30 L1130.40 220.68 L1130.60 218.51 L1130.80 221.35 L1131.00 219.64 L1131.20 221.68 L1131.40 220.86 L1131.60 227.26 L1131.80 223.77 L1132.00 231.04 L1132.20 228.54 L1132.40 233.29 L1132.60 229.88 L1132.80 230.63 L1133.00 232.74 L1133.20 239.64 L1133.40 233.57 L1133.60 237.93 L1133.80 242.52 L1134.00 242.74 L1134.20 241.49 L1134.40 242.43 L1134.60 251.79 L1134.80 242.09 L1135.00 250.81 L1135.20 240.20 L1135.40 249.57 L1135.60 249.86 L1135.80 251.40 L1136.00 256.61 L1136.20 251.99 L1136.40 253.97 L1136.60 264.59 L1136.80 262.20 L1137.00 262.77 L1137.20 258.60 L1137.40 269.12 L1137.60 276.84 L1137.80 261.56 L1138.00 260.34 L1138.20 264.04 L1138.40 271.78 L1138.60 265.14 L1138.80 259.60 L1139.00 269.33 L1139.20 268.13 L1139.40 275.51 L1139.60 273.28 L1139.80 265.60 L1140.00 275.67 L1140.20 267.92 L1140.40 269.39 L1140.60 279.96 L1140.80 282.73 L1141.00 268.46 L1141.20 283.43 L1141.40 276.91 L1141.60 276.51 L1141.80 286.50 L1142.00 295.74 L1142.20 299.95 L1142.40 297.94 L1142.60 279.04 L1142.80 277.33 L1143.00 275.55 L1143.20 301.88 L1143.40 278.36 L1143.60 290.04 L1143.80 290.34 L1144.00 290.40 L1144.20 301.80 L1144.40 286.67 L1144.60 304.60 L1144.80 305.43 L1145.00 298.18 L1145.20 292.44 L1145.40 298.94 L1145.60 305.40 L1145.80 292.65 L1146.00 281.53 L1146.20 308.87 L1146.40 310.20 L1146.60 297.66 L1146.80 309.19 L1147.00 317.40 L1147.20 303.17 L1147.40 322.51 L1147.60 320.04 L1147.80 334.46 L1148.00 307.68 L1148.20 340.40 L1148.40 304.16 L1148.60 307.80 L1148.80 316.90 L1149.00 325.41 L1149.20 318.32 L1149.40 322.33 L1149.60 324.69 L1149.80 349.55 L1150.00 314.32 L1150.20 304.24 L1150.40 326.11 L1150.60 355.23 L1150.80 322.49 L1151.00 336.41 L1151.20 322.66 L1151.40 338.71 L1151.60 333.74 L1151.80 326.95 L1152.00 339.48 L1152.20 343.05 L1152.40 320.59" fill="none" stroke="#000" stroke-width="1.6" stroke-linejoin="round" clip-path="url(#clipB)"/>
<path d="M957.60 330.00 L958.00 364.50 L958.40 330.00" fill="none" stroke="#000" stroke-width="1.45" stroke-linejoin="round" clip-path="url(#clipB)"/>
<path d="M959.20 335.00 L959.60 364.50 L960.00 335.00" fill="none" stroke="#000" stroke-width="1.45" stroke-linejoin="round" clip-path="url(#clipB)"/>
<path d="M1146.50 320.00 L1146.90 364.50 L1147.30 320.00" fill="none" stroke="#000" stroke-width="1.45" stroke-linejoin="round" clip-path="url(#clipB)"/>
<path d="M1149.60 322.00 L1150.00 364.50 L1150.40 322.00" fill="none" stroke="#000" stroke-width="1.45" stroke-linejoin="round" clip-path="url(#clipB)"/>
<path d="M1151.30 330.00 L1151.70 364.50 L1152.10 330.00" fill="none" stroke="#000" stroke-width="1.45" stroke-linejoin="round" clip-path="url(#clipB)"/>
<path d="M409.80 602.30L487.60 542.70" stroke="#000" stroke-width="1.25" stroke-dasharray="20.5 12.5"/>
<path d="M409.80 721.50L643.20 542.70" stroke="#000" stroke-width="1.25" stroke-dasharray="20.5 12.5"/>
<path d="M409.80 840.70L798.80 542.70" stroke="#000" stroke-width="1.25" stroke-dasharray="20.5 12.5"/>
<path d="M409.80 959.90L462.15 919.80" stroke="#000" stroke-width="1.25" stroke-dasharray="20.5 13"/>
<path d="M462.15 919.80L531.23 866.88" stroke="#000" stroke-width="1.25" stroke-dasharray="20.5 13"/>
<path d="M531.23 866.88L600.30 813.96" stroke="#000" stroke-width="1.25" stroke-dasharray="20.5 13"/>
<path d="M600.30 813.96L669.38 761.05" stroke="#000" stroke-width="1.25" stroke-dasharray="20.5 13"/>
<path d="M669.38 761.05L738.45 708.13" stroke="#000" stroke-width="1.25" stroke-dasharray="20.5 13"/>
<path d="M738.45 708.13L807.53 655.22" stroke="#000" stroke-width="1.25" stroke-dasharray="20.5 13"/>
<path d="M807.53 655.22L876.60 602.30" stroke="#000" stroke-width="1.25" stroke-dasharray="20.5 13"/>
<path d="M565.40 959.90L600.30 933.16" stroke="#000" stroke-width="1.25" stroke-dasharray="20.5 13"/>
<path d="M600.30 933.16L669.38 880.25" stroke="#000" stroke-width="1.25" stroke-dasharray="20.5 13"/>
<path d="M669.38 880.25L738.45 827.33" stroke="#000" stroke-width="1.25" stroke-dasharray="20.5 13"/>
<path d="M738.45 827.33L807.53 774.42" stroke="#000" stroke-width="1.25" stroke-dasharray="20.5 13"/>
<path d="M807.53 774.42L876.60 721.50" stroke="#000" stroke-width="1.25" stroke-dasharray="20.5 13"/>
<path d="M721.00 959.90L738.45 946.53" stroke="#000" stroke-width="1.25" stroke-dasharray="20.5 13"/>
<path d="M738.45 946.53L807.53 893.62" stroke="#000" stroke-width="1.25" stroke-dasharray="20.5 13"/>
<path d="M807.53 893.62L876.60 840.70" stroke="#000" stroke-width="1.25" stroke-dasharray="20.5 13"/>
<path d="M410 661.9H876.8" stroke="#000" stroke-width="1.3" stroke-dasharray="1.8 6.8"/>
<path d="M643.2 959.9V542.9" stroke="#000" stroke-width="1.3" stroke-dasharray="1.8 6.8"/>
<path d="M572.80 959.90 L565.60 949.10 L559.20 949.10 L552.00 938.70 L558.90 928.30 L552.00 919.20 L545.20 928.00 L545.20 922.10 L552.00 914.30 L552.00 898.70 L545.20 888.90 L538.40 898.70 L538.40 908.40 L525.70 887.90 L525.70 879.10 L532.50 887.90 L538.40 878.20 L526.60 859.60 L525.70 848.90 L518.80 838.10 L512.00 847.90 L505.20 838.10 L512.00 828.40 L499.30 807.90 L505.50 797.50 L498.80 787.60 L492.00 787.60 L485.70 797.10 L465.70 768.60 L465.70 777.90 L472.10 777.90 L478.60 767.10 L478.60 757.90 L458.60 727.10 L452.10 727.10 L452.10 697.10 L465.30 677.70 L465.30 667.50 L458.90 656.80 L485.30 656.80 L498.80 637.00 L505.80 637.00 L512.30 627.20 L519.50 636.80 L525.70 627.00 L545.20 627.60 L559.20 607.10 L566.70 616.50 L573.80 616.80 L579.50 606.60 L612.70 606.00 L619.10 596.40 L666.10 596.40 L672.50 586.30 L733.50 586.30 L739.80 596.40 L733.50 606.60 L733.50 616.10 L726.70 626.70 L732.90 636.70 L739.70 636.70 L739.70 627.20 L732.90 636.70 L726.80 646.90 L726.80 676.70 L720.30 687.00 L726.80 697.00 L715.30 713.10 L706.40 726.60 L712.50 736.80 L706.40 747.60 L712.50 757.80 L697.50 780.00 L693.10 787.00 L693.10 797.60 L699.30 807.80 L693.10 808.20 L686.10 817.90 L692.20 828.40 L686.60 838.10 L686.60 878.70 L672.90 898.00 L672.90 908.60 L680.80 918.30 L686.60 909.50 L686.60 919.20 L680.80 919.20 L666.70 938.60 L672.90 949.10 L672.90 959.90" fill="none" stroke="#000" stroke-width="1.3" stroke-linejoin="round" clip-path="url(#clipC)"/>
<path d="M605.80 959.90 L594.00 948.60 L596.50 939.30 L589.70 928.30 L585.50 916.40 L578.30 912.60 L576.60 898.60 L572.00 892.30 L566.00 888.00 L562.60 880.00 L554.00 868.40 L554.00 859.60 L547.10 848.90 L547.10 838.10 L538.40 827.40 L538.40 817.60 L530.00 808.60 L525.70 798.60 L517.10 787.10 L511.40 777.10 L510.00 765.70 L508.60 757.10 L502.90 748.60 L502.10 737.10 L500.70 728.60 L497.10 718.60 L493.60 712.10 L490.70 710.00 L485.70 707.90 L486.40 697.10 L484.30 687.10 L484.30 680.00 L485.10 672.40 L492.70 661.70 L517.10 647.20 L526.30 638.00 L538.50 631.20 L545.30 628.10 L559.10 624.30 L567.50 617.50 L579.70 616.70 L584.20 612.90 L591.90 609.10 L599.50 609.10 L613.20 606.00 L616.00 603.50 L625.00 600.50 L632.50 600.50 L640.70 597.40 L666.10 597.20 L672.50 590.70 L689.00 588.80 L701.70 587.20 L705.50 586.60 L722.00 586.30 L725.80 594.50 L726.50 603.40 L724.10 622.50 L720.00 638.70 L718.60 656.40 L713.90 662.50 L711.90 669.90 L711.90 678.10 L713.20 687.50 L710.50 699.70 L708.50 703.60 L703.10 730.70 L698.30 752.40 L694.90 771.40 L692.20 785.00 L688.70 797.60 L686.10 810.00 L684.30 827.60 L679.90 848.70 L674.60 864.60 L669.30 876.90 L668.40 888.40 L663.20 898.00 L660.50 908.60 L655.00 914.70 L652.50 918.60 L648.20 938.90 L639.30 950.30 L632.50 949.10 L627.00 959.90" fill="none" stroke="#000" stroke-width="1.3" stroke-linejoin="round" clip-path="url(#clipC)"/>
<path d="M513.30 680.00 L511.40 687.10 L512.10 697.10 L514.30 708.60 L521.40 722.90 L527.10 734.30 L530.00 745.70 L535.40 760.00 L542.30 771.70 L552.00 793.20 L559.80 810.80 L565.70 822.50 L573.50 838.10 L579.40 853.80 L587.20 865.50 L595.00 881.10 L598.20 888.50 L605.80 893.60 L612.60 895.70 L619.40 901.00 L627.00 899.10 L639.70 888.50 L646.10 880.00 L650.00 875.10 L657.00 857.50 L662.30 841.70 L667.60 824.00 L672.90 802.90 L677.00 787.00 L680.00 775.00 L686.80 757.80 L693.60 717.10 L697.00 699.70 L699.70 683.50 L703.10 669.90 L705.10 656.40 L708.50 640.10 L710.60 628.00 L713.10 611.00 L713.10 603.40 L711.90 596.40 L706.80 593.90 L691.50 594.80 L676.30 597.10 L657.20 600.20 L641.90 603.40 L619.10 609.80 L601.00 616.80 L584.20 622.80 L579.70 626.60 L561.30 634.20 L544.60 644.90 L538.50 647.20 L526.30 657.10 L518.60 667.80 L513.30 680.00" fill="none" stroke="#000" stroke-width="1.3" stroke-linejoin="round" clip-path="url(#clipC)"/>
<path d="M538.50 680.00 L537.70 687.00 L538.60 706.70 L544.90 724.70 L555.80 742.80 L563.00 760.00 L575.50 787.30 L587.20 808.80 L598.90 828.40 L608.70 837.10 L620.00 842.00 L633.20 838.10 L639.40 829.30 L648.20 817.00 L657.00 797.60 L661.00 785.00 L665.10 771.40 L670.50 748.30 L675.90 737.50 L681.40 714.40 L684.70 699.70 L686.80 686.20 L690.20 672.60 L694.90 650.90 L699.00 632.00 L701.10 616.10 L699.10 607.20 L694.10 604.70 L686.40 604.40 L663.60 607.20 L644.50 611.70 L631.80 616.10 L615.30 620.50 L600.00 626.30 L596.40 628.10 L579.70 637.30 L565.90 645.70 L556.80 652.50 L547.60 661.70 L541.50 669.30 L538.50 680.00" fill="none" stroke="#000" stroke-width="1.3" stroke-linejoin="round" clip-path="url(#clipC)"/>
<path d="M565.20 680.00 L564.80 687.00 L566.70 703.00 L573.90 719.30 L584.70 742.80 L595.60 760.90 L600.00 768.60 L609.50 778.10 L619.70 782.20 L627.10 780.80 L633.90 776.80 L643.40 765.90 L651.50 751.00 L657.00 738.80 L665.10 717.10 L671.90 690.00 L673.20 686.20 L677.30 672.60 L681.40 656.40 L684.70 632.00 L684.50 628.00 L679.40 619.70 L673.70 618.70 L663.60 618.90 L650.80 621.20 L638.10 625.00 L627.10 630.60 L616.30 634.70 L601.00 643.20 L587.30 654.10 L575.10 663.20 L567.50 672.40 L565.20 680.00" fill="none" stroke="#000" stroke-width="1.3" stroke-linejoin="round" clip-path="url(#clipC)"/>
<path d="M652.90 639.40 L659.70 641.40 L662.40 646.90 L661.70 656.40 L659.70 664.50 L655.60 678.10 L651.50 689.00 L646.10 699.70 L642.00 707.60 L633.90 717.10 L625.60 721.40 L619.50 722.40 L613.70 720.30 L609.00 717.60 L605.30 713.60 L600.20 707.50 L595.60 697.60 L593.80 686.70 L594.90 678.50 L598.00 667.80 L607.00 659.00 L617.70 651.70 L629.80 645.60 L640.70 641.40 L652.90 639.40" fill="none" stroke="#000" stroke-width="1.3" stroke-linejoin="round" clip-path="url(#clipC)"/>
<path d="M465.70 707.10 L472.10 697.90 L478.60 707.10 L472.10 717.10 L465.70 707.10" fill="none" stroke="#000" stroke-width="1.3" stroke-linejoin="round" clip-path="url(#clipC)"/>
<path d="M479.30 777.90 L485.70 768.60 L492.10 777.90 L485.70 787.10 L479.30 777.90" fill="none" stroke="#000" stroke-width="1.3" stroke-linejoin="round" clip-path="url(#clipC)"/>
<path d="M485.00 817.90 L492.90 817.90" fill="none" stroke="#000" stroke-width="1.3" stroke-linejoin="round" clip-path="url(#clipC)"/>
<path d="M512.00 847.90 L512.00 857.70" fill="none" stroke="#000" stroke-width="1.3" stroke-linejoin="round" clip-path="url(#clipC)"/>
<path d="M512.00 939.70 L512.00 948.50" fill="none" stroke="#000" stroke-width="1.3" stroke-linejoin="round" clip-path="url(#clipC)"/>
<path d="M559.20 887.30 L560.40 888.50" fill="none" stroke="#000" stroke-width="1.3" stroke-linejoin="round" clip-path="url(#clipC)"/>
<path d="M532.50 959.20 L539.30 959.20" fill="none" stroke="#000" stroke-width="1.3" stroke-linejoin="round" clip-path="url(#clipC)"/>
<path d="M739.70 576.40 L746.40 576.40" fill="none" stroke="#000" stroke-width="1.3" stroke-linejoin="round" clip-path="url(#clipC)"/>
<path d="M739.80 596.40 L746.80 596.40" fill="none" stroke="#000" stroke-width="1.3" stroke-linejoin="round" clip-path="url(#clipC)"/>
<path d="M726.80 697.00 L732.90 697.00" fill="none" stroke="#000" stroke-width="1.3" stroke-linejoin="round" clip-path="url(#clipC)"/>
<path d="M706.40 787.60 L713.20 787.60" fill="none" stroke="#000" stroke-width="1.3" stroke-linejoin="round" clip-path="url(#clipC)"/>
<path d="M659.60 959.90 L666.70 949.10 L672.90 959.90" fill="none" stroke="#000" stroke-width="1.3" stroke-linejoin="round" clip-path="url(#clipC)"/>
</svg></body></html>
